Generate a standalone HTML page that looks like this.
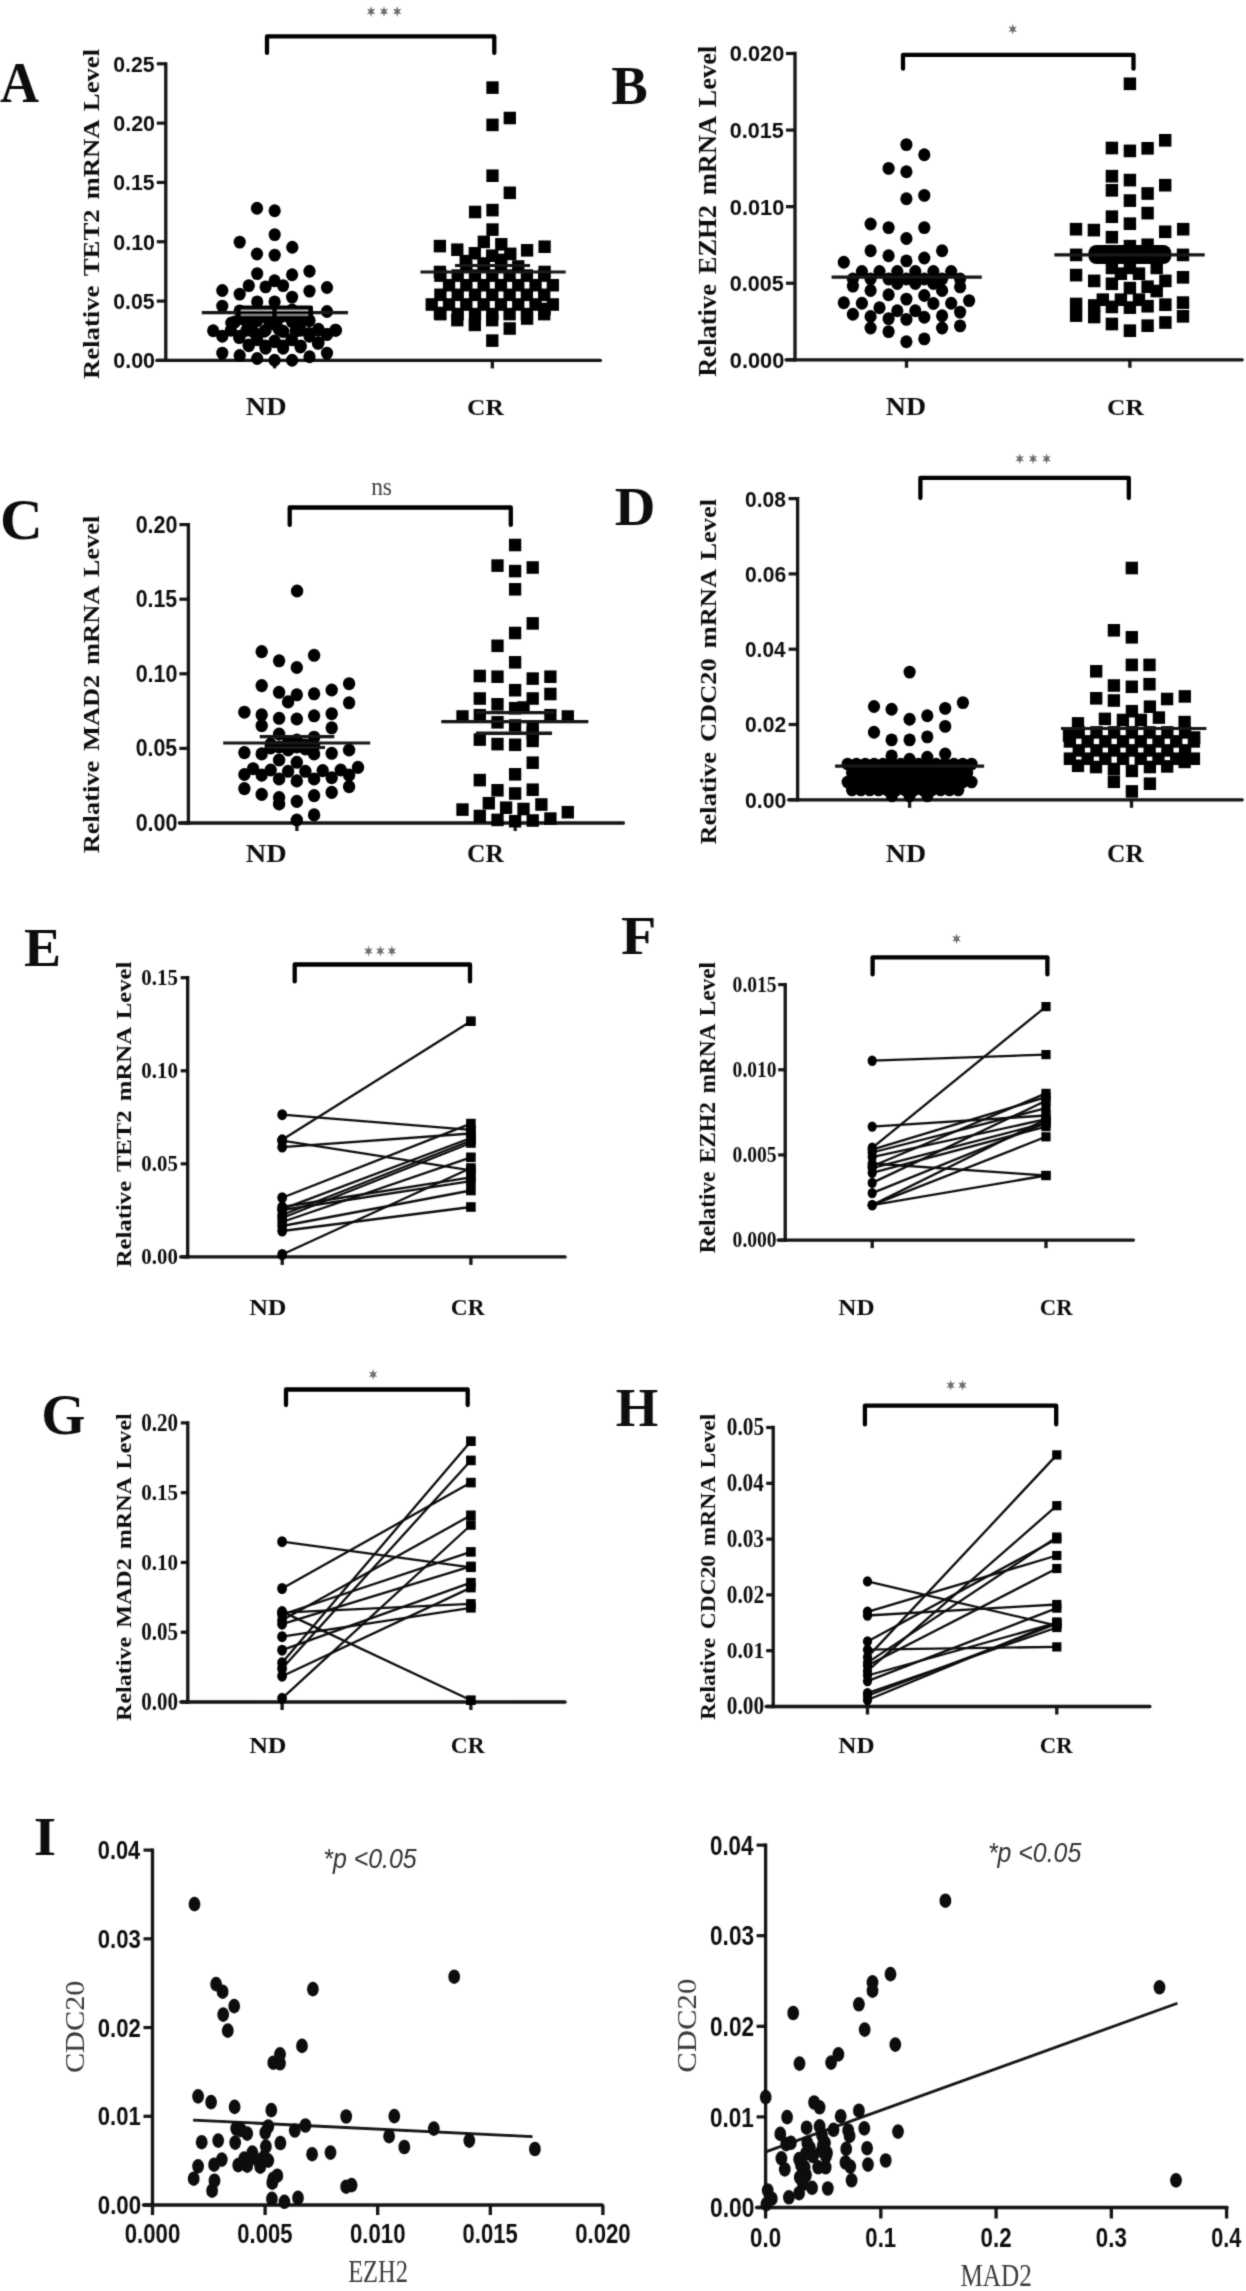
<!DOCTYPE html>
<html><head><meta charset="utf-8"><style>
html,body{margin:0;padding:0;background:#fff;}
body{width:1246px;height:2291px;overflow:hidden;font-family:"Liberation Sans",sans-serif;}
svg{display:block;}
</style></head><body>
<svg width="1246" height="2291" viewBox="0 0 1246 2291">
<defs><filter id="soft" filterUnits="userSpaceOnUse" x="0" y="0" width="1246" height="2291"><feConvolveMatrix order="3" kernelMatrix="0.025 0.1 0.025 0.1 0.5 0.1 0.025 0.1 0.025" edgeMode="duplicate"/></filter></defs>
<rect width="1246" height="2291" fill="#fff"/>
<g filter="url(#soft)">
<line x1="165.8" y1="62.15" x2="165.8" y2="362.05" stroke="#121212" stroke-width="3.3" stroke-linecap="butt"/>
<line x1="156.8" y1="63.8" x2="165.8" y2="63.8" stroke="#121212" stroke-width="3.2" stroke-linecap="butt"/>
<line x1="156.8" y1="123.12" x2="165.8" y2="123.12" stroke="#121212" stroke-width="3.2" stroke-linecap="butt"/>
<line x1="156.8" y1="182.44" x2="165.8" y2="182.44" stroke="#121212" stroke-width="3.2" stroke-linecap="butt"/>
<line x1="156.8" y1="241.76" x2="165.8" y2="241.76" stroke="#121212" stroke-width="3.2" stroke-linecap="butt"/>
<line x1="156.8" y1="301.08" x2="165.8" y2="301.08" stroke="#121212" stroke-width="3.2" stroke-linecap="butt"/>
<line x1="156.8" y1="360.4" x2="165.8" y2="360.4" stroke="#121212" stroke-width="3.2" stroke-linecap="butt"/>
<line x1="156.8" y1="360.4" x2="600.4" y2="360.4" stroke="#121212" stroke-width="3.3" stroke-linecap="round"/>
<line x1="274.6" y1="360.4" x2="274.6" y2="368.4" stroke="#121212" stroke-width="3.3" stroke-linecap="butt"/>
<line x1="492.3" y1="360.4" x2="492.3" y2="368.4" stroke="#121212" stroke-width="3.3" stroke-linecap="butt"/>
<polyline points="267,52.9 267,36.4 494.3,36.4 494.3,52.9" fill="none" stroke="#050505" stroke-width="4.3" stroke-linejoin="round" stroke-linecap="round"/>
<polygon points="371.1,6.1 370.09,9.51 366.98,8.8 369.08,11.5 366.98,14.2 370.09,13.49 371.1,16.9 372.11,13.49 375.22,14.2 373.12,11.5 375.22,8.8 372.11,9.51" fill="#6e6e6e"/>
<polygon points="384,6.1 382.99,9.51 379.88,8.8 381.98,11.5 379.88,14.2 382.99,13.49 384,16.9 385.01,13.49 388.12,14.2 386.02,11.5 388.12,8.8 385.01,9.51" fill="#6e6e6e"/>
<polygon points="397.2,6.1 396.19,9.51 393.08,8.8 395.18,11.5 393.08,14.2 396.19,13.49 397.2,16.9 398.21,13.49 401.32,14.2 399.22,11.5 401.32,8.8 398.21,9.51" fill="#6e6e6e"/>
<ellipse cx="257" cy="208.2" rx="6.1" ry="6.44" fill="#000"/>
<ellipse cx="274.7" cy="210.8" rx="6.1" ry="6.44" fill="#000"/>
<ellipse cx="274.7" cy="234.6" rx="6.1" ry="6.44" fill="#000"/>
<ellipse cx="239.7" cy="242.1" rx="6.1" ry="6.44" fill="#000"/>
<ellipse cx="292.3" cy="247.2" rx="6.1" ry="6.44" fill="#000"/>
<ellipse cx="257" cy="254" rx="6.1" ry="6.44" fill="#000"/>
<ellipse cx="274.7" cy="255.1" rx="6.1" ry="6.44" fill="#000"/>
<ellipse cx="257.2" cy="273.6" rx="6.1" ry="6.44" fill="#000"/>
<ellipse cx="292.1" cy="274.8" rx="6.1" ry="6.44" fill="#000"/>
<ellipse cx="309.5" cy="271.2" rx="6.1" ry="6.44" fill="#000"/>
<ellipse cx="248.8" cy="285.6" rx="6.1" ry="6.44" fill="#000"/>
<ellipse cx="265.6" cy="286.9" rx="6.1" ry="6.44" fill="#000"/>
<ellipse cx="274.6" cy="280.8" rx="6.1" ry="6.44" fill="#000"/>
<ellipse cx="283.1" cy="285.6" rx="6.1" ry="6.44" fill="#000"/>
<ellipse cx="327" cy="287.5" rx="6.1" ry="6.44" fill="#000"/>
<ellipse cx="222.3" cy="290.5" rx="6.1" ry="6.44" fill="#000"/>
<ellipse cx="239.7" cy="294.1" rx="6.1" ry="6.44" fill="#000"/>
<ellipse cx="309.5" cy="291.1" rx="6.1" ry="6.44" fill="#000"/>
<ellipse cx="292.1" cy="297.1" rx="6.1" ry="6.44" fill="#000"/>
<ellipse cx="222.3" cy="306.1" rx="6.1" ry="6.44" fill="#000"/>
<ellipse cx="257.2" cy="301.9" rx="6.1" ry="6.44" fill="#000"/>
<ellipse cx="274.6" cy="301.9" rx="6.1" ry="6.44" fill="#000"/>
<ellipse cx="327" cy="311.5" rx="6.1" ry="6.44" fill="#000"/>
<ellipse cx="239.7" cy="310.9" rx="6.1" ry="6.44" fill="#000"/>
<ellipse cx="309.5" cy="320.6" rx="6.1" ry="6.44" fill="#000"/>
<ellipse cx="231.3" cy="323" rx="6.1" ry="6.44" fill="#000"/>
<ellipse cx="213.2" cy="330.8" rx="6.1" ry="6.44" fill="#000"/>
<ellipse cx="222.3" cy="336.2" rx="6.1" ry="6.44" fill="#000"/>
<ellipse cx="239.7" cy="336.2" rx="6.1" ry="6.44" fill="#000"/>
<ellipse cx="248.8" cy="329" rx="6.1" ry="6.44" fill="#000"/>
<ellipse cx="257.2" cy="320.6" rx="6.1" ry="6.44" fill="#000"/>
<ellipse cx="265.6" cy="330.2" rx="6.1" ry="6.44" fill="#000"/>
<ellipse cx="274.6" cy="324.2" rx="6.1" ry="6.44" fill="#000"/>
<ellipse cx="283.1" cy="331.4" rx="6.1" ry="6.44" fill="#000"/>
<ellipse cx="292.1" cy="321.8" rx="6.1" ry="6.44" fill="#000"/>
<ellipse cx="300.5" cy="330.2" rx="6.1" ry="6.44" fill="#000"/>
<ellipse cx="318" cy="330.2" rx="6.1" ry="6.44" fill="#000"/>
<ellipse cx="327" cy="334.4" rx="6.1" ry="6.44" fill="#000"/>
<ellipse cx="336" cy="330.2" rx="6.1" ry="6.44" fill="#000"/>
<ellipse cx="309.5" cy="336.2" rx="6.1" ry="6.44" fill="#000"/>
<ellipse cx="248.8" cy="345.8" rx="6.1" ry="6.44" fill="#000"/>
<ellipse cx="257.2" cy="339.8" rx="6.1" ry="6.44" fill="#000"/>
<ellipse cx="265.6" cy="348.2" rx="6.1" ry="6.44" fill="#000"/>
<ellipse cx="274.6" cy="341" rx="6.1" ry="6.44" fill="#000"/>
<ellipse cx="283.1" cy="348.2" rx="6.1" ry="6.44" fill="#000"/>
<ellipse cx="292.1" cy="339.8" rx="6.1" ry="6.44" fill="#000"/>
<ellipse cx="300.5" cy="347" rx="6.1" ry="6.44" fill="#000"/>
<ellipse cx="318" cy="343.4" rx="6.1" ry="6.44" fill="#000"/>
<ellipse cx="222.3" cy="353.1" rx="6.1" ry="6.44" fill="#000"/>
<ellipse cx="239.7" cy="355.5" rx="6.1" ry="6.44" fill="#000"/>
<ellipse cx="257.2" cy="358.5" rx="6.1" ry="6.44" fill="#000"/>
<ellipse cx="274.6" cy="360.3" rx="6.1" ry="6.44" fill="#000"/>
<ellipse cx="292.1" cy="360.3" rx="6.1" ry="6.44" fill="#000"/>
<ellipse cx="309.5" cy="356.7" rx="6.1" ry="6.44" fill="#000"/>
<ellipse cx="327" cy="353.1" rx="6.1" ry="6.44" fill="#000"/>
<ellipse cx="248.8" cy="314" rx="6.1" ry="6.44" fill="#000"/>
<ellipse cx="265.6" cy="316" rx="6.1" ry="6.44" fill="#000"/>
<ellipse cx="283.1" cy="316" rx="6.1" ry="6.44" fill="#000"/>
<ellipse cx="300.5" cy="316" rx="6.1" ry="6.44" fill="#000"/>
<ellipse cx="257.2" cy="310" rx="6.1" ry="6.44" fill="#000"/>
<ellipse cx="292.1" cy="310" rx="6.1" ry="6.44" fill="#000"/>
<ellipse cx="235" cy="321.9" rx="6.1" ry="6.44" fill="#000"/>
<ellipse cx="244.4" cy="319.8" rx="6.1" ry="6.44" fill="#000"/>
<ellipse cx="253.8" cy="320.9" rx="6.1" ry="6.44" fill="#000"/>
<ellipse cx="268.4" cy="319.8" rx="6.1" ry="6.44" fill="#000"/>
<ellipse cx="276.8" cy="320.9" rx="6.1" ry="6.44" fill="#000"/>
<ellipse cx="292.4" cy="320.9" rx="6.1" ry="6.44" fill="#000"/>
<ellipse cx="299.7" cy="327.1" rx="6.1" ry="6.44" fill="#000"/>
<ellipse cx="309.1" cy="320.3" rx="6.1" ry="6.44" fill="#000"/>
<ellipse cx="230.9" cy="330.3" rx="6.1" ry="6.44" fill="#000"/>
<ellipse cx="246.5" cy="330.3" rx="6.1" ry="6.44" fill="#000"/>
<ellipse cx="253.8" cy="332.3" rx="6.1" ry="6.44" fill="#000"/>
<ellipse cx="264.3" cy="331.3" rx="6.1" ry="6.44" fill="#000"/>
<ellipse cx="278.9" cy="329.2" rx="6.1" ry="6.44" fill="#000"/>
<ellipse cx="283" cy="331.3" rx="6.1" ry="6.44" fill="#000"/>
<ellipse cx="295.5" cy="331.3" rx="6.1" ry="6.44" fill="#000"/>
<ellipse cx="309.1" cy="333.4" rx="6.1" ry="6.44" fill="#000"/>
<ellipse cx="239.2" cy="337.6" rx="6.1" ry="6.44" fill="#000"/>
<ellipse cx="248.6" cy="344.9" rx="6.1" ry="6.44" fill="#000"/>
<ellipse cx="257" cy="337.6" rx="6.1" ry="6.44" fill="#000"/>
<ellipse cx="265.3" cy="345.9" rx="6.1" ry="6.44" fill="#000"/>
<ellipse cx="274.7" cy="341.7" rx="6.1" ry="6.44" fill="#000"/>
<ellipse cx="283" cy="345.9" rx="6.1" ry="6.44" fill="#000"/>
<ellipse cx="291.4" cy="339.6" rx="6.1" ry="6.44" fill="#000"/>
<ellipse cx="300.8" cy="345.9" rx="6.1" ry="6.44" fill="#000"/>
<ellipse cx="318.5" cy="342.8" rx="6.1" ry="6.44" fill="#000"/>
<ellipse cx="318.5" cy="329.2" rx="6.1" ry="6.44" fill="#000"/>
<ellipse cx="335.2" cy="330.3" rx="6.1" ry="6.44" fill="#000"/>
<ellipse cx="326.8" cy="334.4" rx="6.1" ry="6.44" fill="#000"/>
<line x1="201.8" y1="312.7" x2="348" y2="312.7" stroke="#121212" stroke-width="3.2" stroke-linecap="butt"/>
<rect x="236.5" y="305.5" width="76.5" height="14" rx="2" fill="#000"/>
<line x1="241" y1="310.3" x2="272" y2="310.3" stroke="#ddd" stroke-width="1.1" stroke-linecap="butt"/>
<line x1="277" y1="310.3" x2="308" y2="310.3" stroke="#ddd" stroke-width="1.1" stroke-linecap="butt"/>
<line x1="241" y1="315" x2="272" y2="315" stroke="#ddd" stroke-width="1.1" stroke-linecap="butt"/>
<line x1="277" y1="315" x2="308" y2="315" stroke="#ddd" stroke-width="1.1" stroke-linecap="butt"/>
<rect x="486.35" y="81.33" width="12.3" height="12.55" fill="#000"/>
<rect x="503.65" y="111.73" width="12.3" height="12.55" fill="#000"/>
<rect x="486.35" y="118.63" width="12.3" height="12.55" fill="#000"/>
<rect x="486.35" y="169.43" width="12.3" height="12.55" fill="#000"/>
<rect x="503.65" y="186.53" width="12.3" height="12.55" fill="#000"/>
<rect x="468.95" y="205.73" width="12.3" height="12.55" fill="#000"/>
<rect x="486.35" y="203.83" width="12.3" height="12.55" fill="#000"/>
<rect x="486.35" y="223.33" width="12.3" height="12.55" fill="#000"/>
<rect x="477.65" y="235.63" width="12.3" height="12.55" fill="#000"/>
<rect x="495.15" y="238.03" width="12.3" height="12.55" fill="#000"/>
<rect x="433.75" y="239.83" width="12.3" height="12.55" fill="#000"/>
<rect x="451.15" y="243.43" width="12.3" height="12.55" fill="#000"/>
<rect x="468.65" y="247.03" width="12.3" height="12.55" fill="#000"/>
<rect x="486.05" y="249.43" width="12.3" height="12.55" fill="#000"/>
<rect x="504.15" y="247.63" width="12.3" height="12.55" fill="#000"/>
<rect x="520.95" y="244.03" width="12.3" height="12.55" fill="#000"/>
<rect x="538.45" y="240.43" width="12.3" height="12.55" fill="#000"/>
<rect x="459.55" y="254.83" width="12.3" height="12.55" fill="#000"/>
<rect x="477.65" y="257.23" width="12.3" height="12.55" fill="#000"/>
<rect x="495.15" y="253.63" width="12.3" height="12.55" fill="#000"/>
<rect x="433.75" y="265.73" width="12.3" height="12.55" fill="#000"/>
<rect x="538.45" y="265.73" width="12.3" height="12.55" fill="#000"/>
<rect x="434.25" y="269.33" width="12.3" height="12.55" fill="#000"/>
<rect x="451.55" y="269.33" width="12.3" height="12.55" fill="#000"/>
<rect x="468.85" y="269.33" width="12.3" height="12.55" fill="#000"/>
<rect x="486.15" y="269.33" width="12.3" height="12.55" fill="#000"/>
<rect x="503.45" y="269.33" width="12.3" height="12.55" fill="#000"/>
<rect x="520.75" y="269.33" width="12.3" height="12.55" fill="#000"/>
<rect x="538.05" y="269.33" width="12.3" height="12.55" fill="#000"/>
<rect x="434.25" y="288.53" width="12.3" height="12.55" fill="#000"/>
<rect x="451.55" y="288.53" width="12.3" height="12.55" fill="#000"/>
<rect x="468.85" y="288.53" width="12.3" height="12.55" fill="#000"/>
<rect x="486.15" y="288.53" width="12.3" height="12.55" fill="#000"/>
<rect x="503.45" y="288.53" width="12.3" height="12.55" fill="#000"/>
<rect x="520.75" y="288.53" width="12.3" height="12.55" fill="#000"/>
<rect x="538.05" y="288.53" width="12.3" height="12.55" fill="#000"/>
<rect x="434.25" y="307.83" width="12.3" height="12.55" fill="#000"/>
<rect x="451.55" y="307.83" width="12.3" height="12.55" fill="#000"/>
<rect x="468.85" y="307.83" width="12.3" height="12.55" fill="#000"/>
<rect x="486.15" y="307.83" width="12.3" height="12.55" fill="#000"/>
<rect x="503.45" y="307.83" width="12.3" height="12.55" fill="#000"/>
<rect x="520.75" y="307.83" width="12.3" height="12.55" fill="#000"/>
<rect x="538.05" y="307.83" width="12.3" height="12.55" fill="#000"/>
<rect x="460.2" y="260.23" width="12.3" height="12.55" fill="#000"/>
<rect x="477.5" y="260.23" width="12.3" height="12.55" fill="#000"/>
<rect x="494.8" y="260.23" width="12.3" height="12.55" fill="#000"/>
<rect x="512.1" y="260.23" width="12.3" height="12.55" fill="#000"/>
<rect x="442.9" y="278.93" width="12.3" height="12.55" fill="#000"/>
<rect x="460.2" y="278.93" width="12.3" height="12.55" fill="#000"/>
<rect x="477.5" y="278.93" width="12.3" height="12.55" fill="#000"/>
<rect x="494.8" y="278.93" width="12.3" height="12.55" fill="#000"/>
<rect x="512.1" y="278.93" width="12.3" height="12.55" fill="#000"/>
<rect x="529.4" y="278.93" width="12.3" height="12.55" fill="#000"/>
<rect x="546.7" y="278.93" width="12.3" height="12.55" fill="#000"/>
<rect x="425.6" y="298.23" width="12.3" height="12.55" fill="#000"/>
<rect x="442.9" y="298.23" width="12.3" height="12.55" fill="#000"/>
<rect x="460.2" y="298.23" width="12.3" height="12.55" fill="#000"/>
<rect x="477.5" y="298.23" width="12.3" height="12.55" fill="#000"/>
<rect x="494.8" y="298.23" width="12.3" height="12.55" fill="#000"/>
<rect x="512.1" y="298.23" width="12.3" height="12.55" fill="#000"/>
<rect x="529.4" y="298.23" width="12.3" height="12.55" fill="#000"/>
<rect x="546.7" y="298.23" width="12.3" height="12.55" fill="#000"/>
<rect x="451.15" y="313.83" width="12.3" height="12.55" fill="#000"/>
<rect x="468.65" y="318.63" width="12.3" height="12.55" fill="#000"/>
<rect x="486.05" y="313.83" width="12.3" height="12.55" fill="#000"/>
<rect x="503.55" y="322.23" width="12.3" height="12.55" fill="#000"/>
<rect x="520.95" y="312.23" width="12.3" height="12.55" fill="#000"/>
<rect x="538.45" y="302.73" width="12.3" height="12.55" fill="#000"/>
<rect x="433.75" y="306.73" width="12.3" height="12.55" fill="#000"/>
<rect x="486.15" y="334.33" width="12.3" height="12.55" fill="#000"/>
<line x1="420.5" y1="272" x2="565.7" y2="272" stroke="#121212" stroke-width="3.2" stroke-linecap="butt"/>
<line x1="455" y1="265.5" x2="530" y2="265.5" stroke="#121212" stroke-width="3" stroke-linecap="butt"/>
<line x1="795" y1="51.85" x2="795" y2="361.45" stroke="#121212" stroke-width="3.3" stroke-linecap="butt"/>
<line x1="786" y1="53.5" x2="795" y2="53.5" stroke="#121212" stroke-width="3.2" stroke-linecap="butt"/>
<line x1="786" y1="130.07" x2="795" y2="130.07" stroke="#121212" stroke-width="3.2" stroke-linecap="butt"/>
<line x1="786" y1="206.65" x2="795" y2="206.65" stroke="#121212" stroke-width="3.2" stroke-linecap="butt"/>
<line x1="786" y1="283.23" x2="795" y2="283.23" stroke="#121212" stroke-width="3.2" stroke-linecap="butt"/>
<line x1="786" y1="359.8" x2="795" y2="359.8" stroke="#121212" stroke-width="3.2" stroke-linecap="butt"/>
<line x1="786" y1="359.8" x2="1242.2" y2="359.8" stroke="#121212" stroke-width="3.3" stroke-linecap="round"/>
<line x1="906.5" y1="359.8" x2="906.5" y2="367.8" stroke="#121212" stroke-width="3.3" stroke-linecap="butt"/>
<line x1="1129.9" y1="359.8" x2="1129.9" y2="367.8" stroke="#121212" stroke-width="3.3" stroke-linecap="butt"/>
<polyline points="903,68.7 903,54.8 1133.5,54.8 1133.5,68.7" fill="none" stroke="#050505" stroke-width="4.3" stroke-linejoin="round" stroke-linecap="round"/>
<polygon points="1012.7,23.8 1011.69,27.21 1008.58,26.5 1010.68,29.2 1008.58,31.9 1011.69,31.19 1012.7,34.6 1013.71,31.19 1016.82,31.9 1014.72,29.2 1016.82,26.5 1013.71,27.21" fill="#6e6e6e"/>
<ellipse cx="906.4" cy="144.6" rx="6.1" ry="6.44" fill="#000"/>
<ellipse cx="924.3" cy="154.7" rx="6.1" ry="6.44" fill="#000"/>
<ellipse cx="888.6" cy="168.4" rx="6.1" ry="6.44" fill="#000"/>
<ellipse cx="906.4" cy="171.7" rx="6.1" ry="6.44" fill="#000"/>
<ellipse cx="906.4" cy="198.7" rx="6.1" ry="6.44" fill="#000"/>
<ellipse cx="924.3" cy="195.4" rx="6.1" ry="6.44" fill="#000"/>
<ellipse cx="870.6" cy="224" rx="6.1" ry="6.44" fill="#000"/>
<ellipse cx="888.6" cy="227.6" rx="6.1" ry="6.44" fill="#000"/>
<ellipse cx="924.3" cy="227.6" rx="6.1" ry="6.44" fill="#000"/>
<ellipse cx="906.4" cy="238.5" rx="6.1" ry="6.44" fill="#000"/>
<ellipse cx="870.6" cy="250.7" rx="6.1" ry="6.44" fill="#000"/>
<ellipse cx="888.6" cy="255.8" rx="6.1" ry="6.44" fill="#000"/>
<ellipse cx="906.4" cy="260.9" rx="6.1" ry="6.44" fill="#000"/>
<ellipse cx="924.3" cy="258" rx="6.1" ry="6.44" fill="#000"/>
<ellipse cx="942.1" cy="250.7" rx="6.1" ry="6.44" fill="#000"/>
<ellipse cx="843.8" cy="262.3" rx="6.1" ry="6.44" fill="#000"/>
<ellipse cx="852.9" cy="286.1" rx="6.1" ry="6.44" fill="#000"/>
<ellipse cx="870.6" cy="290.5" rx="6.1" ry="6.44" fill="#000"/>
<ellipse cx="888.6" cy="294.8" rx="6.1" ry="6.44" fill="#000"/>
<ellipse cx="906.4" cy="299.1" rx="6.1" ry="6.44" fill="#000"/>
<ellipse cx="924.3" cy="295.5" rx="6.1" ry="6.44" fill="#000"/>
<ellipse cx="942.1" cy="290.5" rx="6.1" ry="6.44" fill="#000"/>
<ellipse cx="960.1" cy="286.9" rx="6.1" ry="6.44" fill="#000"/>
<ellipse cx="843.8" cy="302.7" rx="6.1" ry="6.44" fill="#000"/>
<ellipse cx="861.9" cy="303.2" rx="6.1" ry="6.44" fill="#000"/>
<ellipse cx="879.5" cy="307.8" rx="6.1" ry="6.44" fill="#000"/>
<ellipse cx="897.3" cy="310.7" rx="6.1" ry="6.44" fill="#000"/>
<ellipse cx="915.3" cy="310.7" rx="6.1" ry="6.44" fill="#000"/>
<ellipse cx="933.4" cy="303.5" rx="6.1" ry="6.44" fill="#000"/>
<ellipse cx="951.2" cy="303.2" rx="6.1" ry="6.44" fill="#000"/>
<ellipse cx="969.1" cy="300.6" rx="6.1" ry="6.44" fill="#000"/>
<ellipse cx="852.9" cy="314.3" rx="6.1" ry="6.44" fill="#000"/>
<ellipse cx="870.6" cy="316.5" rx="6.1" ry="6.44" fill="#000"/>
<ellipse cx="888.6" cy="318.6" rx="6.1" ry="6.44" fill="#000"/>
<ellipse cx="906.4" cy="319.4" rx="6.1" ry="6.44" fill="#000"/>
<ellipse cx="924.3" cy="317.2" rx="6.1" ry="6.44" fill="#000"/>
<ellipse cx="942.1" cy="315.8" rx="6.1" ry="6.44" fill="#000"/>
<ellipse cx="960.1" cy="312.1" rx="6.1" ry="6.44" fill="#000"/>
<ellipse cx="870.6" cy="328" rx="6.1" ry="6.44" fill="#000"/>
<ellipse cx="888.6" cy="331.6" rx="6.1" ry="6.44" fill="#000"/>
<ellipse cx="942.1" cy="328" rx="6.1" ry="6.44" fill="#000"/>
<ellipse cx="960.1" cy="325.9" rx="6.1" ry="6.44" fill="#000"/>
<ellipse cx="906.4" cy="341.8" rx="6.1" ry="6.44" fill="#000"/>
<ellipse cx="924.3" cy="338.9" rx="6.1" ry="6.44" fill="#000"/>
<ellipse cx="861.9" cy="271.5" rx="6.1" ry="6.44" fill="#000"/>
<ellipse cx="879.5" cy="271.5" rx="6.1" ry="6.44" fill="#000"/>
<ellipse cx="897.3" cy="271.5" rx="6.1" ry="6.44" fill="#000"/>
<ellipse cx="915.3" cy="271.5" rx="6.1" ry="6.44" fill="#000"/>
<ellipse cx="933.4" cy="271.5" rx="6.1" ry="6.44" fill="#000"/>
<ellipse cx="951.2" cy="271.5" rx="6.1" ry="6.44" fill="#000"/>
<ellipse cx="852.9" cy="279" rx="6.1" ry="6.44" fill="#000"/>
<ellipse cx="870.6" cy="279" rx="6.1" ry="6.44" fill="#000"/>
<ellipse cx="888.6" cy="279" rx="6.1" ry="6.44" fill="#000"/>
<ellipse cx="906.4" cy="279" rx="6.1" ry="6.44" fill="#000"/>
<ellipse cx="924.3" cy="279" rx="6.1" ry="6.44" fill="#000"/>
<ellipse cx="942.1" cy="279" rx="6.1" ry="6.44" fill="#000"/>
<ellipse cx="960.1" cy="279" rx="6.1" ry="6.44" fill="#000"/>
<ellipse cx="897.3" cy="283.5" rx="6.1" ry="6.44" fill="#000"/>
<ellipse cx="915.3" cy="283.5" rx="6.1" ry="6.44" fill="#000"/>
<ellipse cx="933.4" cy="283.5" rx="6.1" ry="6.44" fill="#000"/>
<line x1="831.6" y1="277.2" x2="981.8" y2="277.2" stroke="#121212" stroke-width="3.2" stroke-linecap="butt"/>
<rect x="1123.7" y="77.48" width="12.4" height="12.65" fill="#000"/>
<rect x="1105.7" y="141.68" width="12.4" height="12.65" fill="#000"/>
<rect x="1123.7" y="144.58" width="12.4" height="12.65" fill="#000"/>
<rect x="1141.4" y="141.98" width="12.4" height="12.65" fill="#000"/>
<rect x="1159" y="133.98" width="12.4" height="12.65" fill="#000"/>
<rect x="1105.7" y="169.88" width="12.4" height="12.65" fill="#000"/>
<rect x="1105.7" y="183.98" width="12.4" height="12.65" fill="#000"/>
<rect x="1123.7" y="173.78" width="12.4" height="12.65" fill="#000"/>
<rect x="1141.4" y="187.18" width="12.4" height="12.65" fill="#000"/>
<rect x="1159" y="178.88" width="12.4" height="12.65" fill="#000"/>
<rect x="1123.7" y="194.28" width="12.4" height="12.65" fill="#000"/>
<rect x="1105.7" y="210.38" width="12.4" height="12.65" fill="#000"/>
<rect x="1123.7" y="217.38" width="12.4" height="12.65" fill="#000"/>
<rect x="1141.4" y="206.78" width="12.4" height="12.65" fill="#000"/>
<rect x="1069.8" y="222.88" width="12.4" height="12.65" fill="#000"/>
<rect x="1087.7" y="223.78" width="12.4" height="12.65" fill="#000"/>
<rect x="1159" y="225.48" width="12.4" height="12.65" fill="#000"/>
<rect x="1177" y="222.88" width="12.4" height="12.65" fill="#000"/>
<rect x="1105.7" y="230.88" width="12.4" height="12.65" fill="#000"/>
<rect x="1123.7" y="239.88" width="12.4" height="12.65" fill="#000"/>
<rect x="1141.4" y="238.48" width="12.4" height="12.65" fill="#000"/>
<rect x="1069.9" y="248.58" width="12.4" height="12.65" fill="#000"/>
<rect x="1176.8" y="248.58" width="12.4" height="12.65" fill="#000"/>
<rect x="1105.7" y="261.58" width="12.4" height="12.65" fill="#000"/>
<rect x="1123.7" y="261.58" width="12.4" height="12.65" fill="#000"/>
<rect x="1132.8" y="267.38" width="12.4" height="12.65" fill="#000"/>
<rect x="1150.5" y="261.58" width="12.4" height="12.65" fill="#000"/>
<rect x="1069.9" y="268.78" width="12.4" height="12.65" fill="#000"/>
<rect x="1088" y="274.58" width="12.4" height="12.65" fill="#000"/>
<rect x="1105.7" y="277.48" width="12.4" height="12.65" fill="#000"/>
<rect x="1123.7" y="281.78" width="12.4" height="12.65" fill="#000"/>
<rect x="1141.4" y="280.38" width="12.4" height="12.65" fill="#000"/>
<rect x="1150.5" y="284.68" width="12.4" height="12.65" fill="#000"/>
<rect x="1159.2" y="274.58" width="12.4" height="12.65" fill="#000"/>
<rect x="1176.8" y="270.98" width="12.4" height="12.65" fill="#000"/>
<rect x="1069.9" y="297.68" width="12.4" height="12.65" fill="#000"/>
<rect x="1069.9" y="309.28" width="12.4" height="12.65" fill="#000"/>
<rect x="1088" y="299.18" width="12.4" height="12.65" fill="#000"/>
<rect x="1088" y="310.68" width="12.4" height="12.65" fill="#000"/>
<rect x="1096.6" y="293.38" width="12.4" height="12.65" fill="#000"/>
<rect x="1105.7" y="300.58" width="12.4" height="12.65" fill="#000"/>
<rect x="1114.7" y="293.38" width="12.4" height="12.65" fill="#000"/>
<rect x="1123.7" y="301.28" width="12.4" height="12.65" fill="#000"/>
<rect x="1132.8" y="293.38" width="12.4" height="12.65" fill="#000"/>
<rect x="1141.4" y="299.88" width="12.4" height="12.65" fill="#000"/>
<rect x="1159.2" y="298.38" width="12.4" height="12.65" fill="#000"/>
<rect x="1176.8" y="296.28" width="12.4" height="12.65" fill="#000"/>
<rect x="1176.8" y="309.98" width="12.4" height="12.65" fill="#000"/>
<rect x="1105.7" y="317.68" width="12.4" height="12.65" fill="#000"/>
<rect x="1123.7" y="324.38" width="12.4" height="12.65" fill="#000"/>
<rect x="1141.4" y="319.38" width="12.4" height="12.65" fill="#000"/>
<rect x="1159.2" y="316.18" width="12.4" height="12.65" fill="#000"/>
<rect x="1114.7" y="267.38" width="12.4" height="12.65" fill="#000"/>
<rect x="1088.4" y="245" width="83" height="19" rx="8" fill="#000"/>
<line x1="1054.4" y1="254.9" x2="1204.7" y2="254.9" stroke="#121212" stroke-width="3.2" stroke-linecap="butt"/>
<line x1="188.4" y1="522.95" x2="188.4" y2="824.65" stroke="#121212" stroke-width="3.3" stroke-linecap="butt"/>
<line x1="179.4" y1="524.6" x2="188.4" y2="524.6" stroke="#121212" stroke-width="3.2" stroke-linecap="butt"/>
<line x1="179.4" y1="599.2" x2="188.4" y2="599.2" stroke="#121212" stroke-width="3.2" stroke-linecap="butt"/>
<line x1="179.4" y1="673.8" x2="188.4" y2="673.8" stroke="#121212" stroke-width="3.2" stroke-linecap="butt"/>
<line x1="179.4" y1="748.4" x2="188.4" y2="748.4" stroke="#121212" stroke-width="3.2" stroke-linecap="butt"/>
<line x1="179.4" y1="823" x2="188.4" y2="823" stroke="#121212" stroke-width="3.2" stroke-linecap="butt"/>
<line x1="179.4" y1="823" x2="623.4" y2="823" stroke="#121212" stroke-width="3.3" stroke-linecap="round"/>
<line x1="296.9" y1="823" x2="296.9" y2="831" stroke="#121212" stroke-width="3.3" stroke-linecap="butt"/>
<line x1="515.2" y1="823" x2="515.2" y2="831" stroke="#121212" stroke-width="3.3" stroke-linecap="butt"/>
<polyline points="289.7,524.9 289.7,507.5 510.8,507.5 510.8,524.9" fill="none" stroke="#050505" stroke-width="4.3" stroke-linejoin="round" stroke-linecap="round"/>
<ellipse cx="297.1" cy="591" rx="6.2" ry="6.54" fill="#000"/>
<ellipse cx="261.7" cy="651.6" rx="6.2" ry="6.54" fill="#000"/>
<ellipse cx="279.1" cy="660.8" rx="6.2" ry="6.54" fill="#000"/>
<ellipse cx="296.8" cy="667.5" rx="6.2" ry="6.54" fill="#000"/>
<ellipse cx="314.1" cy="655.3" rx="6.2" ry="6.54" fill="#000"/>
<ellipse cx="261.7" cy="685.6" rx="6.2" ry="6.54" fill="#000"/>
<ellipse cx="279.1" cy="692.3" rx="6.2" ry="6.54" fill="#000"/>
<ellipse cx="288.1" cy="701.9" rx="6.2" ry="6.54" fill="#000"/>
<ellipse cx="296.8" cy="694.8" rx="6.2" ry="6.54" fill="#000"/>
<ellipse cx="314.1" cy="693.8" rx="6.2" ry="6.54" fill="#000"/>
<ellipse cx="331.7" cy="690" rx="6.2" ry="6.54" fill="#000"/>
<ellipse cx="349.1" cy="683.7" rx="6.2" ry="6.54" fill="#000"/>
<ellipse cx="349.1" cy="702.8" rx="6.2" ry="6.54" fill="#000"/>
<ellipse cx="244.4" cy="712.2" rx="6.2" ry="6.54" fill="#000"/>
<ellipse cx="261.7" cy="714.8" rx="6.2" ry="6.54" fill="#000"/>
<ellipse cx="261.7" cy="725.7" rx="6.2" ry="6.54" fill="#000"/>
<ellipse cx="279.1" cy="718.3" rx="6.2" ry="6.54" fill="#000"/>
<ellipse cx="296.8" cy="719" rx="6.2" ry="6.54" fill="#000"/>
<ellipse cx="314.1" cy="715.8" rx="6.2" ry="6.54" fill="#000"/>
<ellipse cx="331.7" cy="713.7" rx="6.2" ry="6.54" fill="#000"/>
<ellipse cx="331.7" cy="727.8" rx="6.2" ry="6.54" fill="#000"/>
<ellipse cx="279.1" cy="734" rx="6.2" ry="6.54" fill="#000"/>
<ellipse cx="314.1" cy="737.2" rx="6.2" ry="6.54" fill="#000"/>
<ellipse cx="244.4" cy="752.6" rx="6.2" ry="6.54" fill="#000"/>
<ellipse cx="261.7" cy="753.9" rx="6.2" ry="6.54" fill="#000"/>
<ellipse cx="288.1" cy="750" rx="6.2" ry="6.54" fill="#000"/>
<ellipse cx="314.1" cy="753.9" rx="6.2" ry="6.54" fill="#000"/>
<ellipse cx="331.7" cy="753.3" rx="6.2" ry="6.54" fill="#000"/>
<ellipse cx="349.1" cy="750" rx="6.2" ry="6.54" fill="#000"/>
<ellipse cx="279.1" cy="760" rx="6.2" ry="6.54" fill="#000"/>
<ellipse cx="296.8" cy="762.3" rx="6.2" ry="6.54" fill="#000"/>
<ellipse cx="244.4" cy="774.5" rx="6.2" ry="6.54" fill="#000"/>
<ellipse cx="253.1" cy="768.7" rx="6.2" ry="6.54" fill="#000"/>
<ellipse cx="261.7" cy="775.1" rx="6.2" ry="6.54" fill="#000"/>
<ellipse cx="270.7" cy="770" rx="6.2" ry="6.54" fill="#000"/>
<ellipse cx="279.1" cy="779" rx="6.2" ry="6.54" fill="#000"/>
<ellipse cx="288.1" cy="771.3" rx="6.2" ry="6.54" fill="#000"/>
<ellipse cx="296.8" cy="780.9" rx="6.2" ry="6.54" fill="#000"/>
<ellipse cx="305.4" cy="771.3" rx="6.2" ry="6.54" fill="#000"/>
<ellipse cx="314.1" cy="779" rx="6.2" ry="6.54" fill="#000"/>
<ellipse cx="322.7" cy="770.6" rx="6.2" ry="6.54" fill="#000"/>
<ellipse cx="331.7" cy="777.7" rx="6.2" ry="6.54" fill="#000"/>
<ellipse cx="340.7" cy="770" rx="6.2" ry="6.54" fill="#000"/>
<ellipse cx="349.1" cy="775.1" rx="6.2" ry="6.54" fill="#000"/>
<ellipse cx="358" cy="767.4" rx="6.2" ry="6.54" fill="#000"/>
<ellipse cx="244.4" cy="788.6" rx="6.2" ry="6.54" fill="#000"/>
<ellipse cx="261.7" cy="794.4" rx="6.2" ry="6.54" fill="#000"/>
<ellipse cx="279.1" cy="797.6" rx="6.2" ry="6.54" fill="#000"/>
<ellipse cx="279.1" cy="804" rx="6.2" ry="6.54" fill="#000"/>
<ellipse cx="296.8" cy="801.4" rx="6.2" ry="6.54" fill="#000"/>
<ellipse cx="314.1" cy="795.6" rx="6.2" ry="6.54" fill="#000"/>
<ellipse cx="331.7" cy="792.4" rx="6.2" ry="6.54" fill="#000"/>
<ellipse cx="349.1" cy="786.7" rx="6.2" ry="6.54" fill="#000"/>
<ellipse cx="314.1" cy="814.9" rx="6.2" ry="6.54" fill="#000"/>
<ellipse cx="296.8" cy="820" rx="6.2" ry="6.54" fill="#000"/>
<ellipse cx="270.7" cy="744" rx="6.2" ry="6.54" fill="#000"/>
<ellipse cx="288.1" cy="742" rx="6.2" ry="6.54" fill="#000"/>
<ellipse cx="305.4" cy="745" rx="6.2" ry="6.54" fill="#000"/>
<ellipse cx="296.8" cy="740" rx="6.2" ry="6.54" fill="#000"/>
<ellipse cx="270.7" cy="748" rx="6.2" ry="6.54" fill="#000"/>
<ellipse cx="279.1" cy="747" rx="6.2" ry="6.54" fill="#000"/>
<ellipse cx="288.1" cy="749" rx="6.2" ry="6.54" fill="#000"/>
<ellipse cx="296.8" cy="747" rx="6.2" ry="6.54" fill="#000"/>
<ellipse cx="305.4" cy="749" rx="6.2" ry="6.54" fill="#000"/>
<ellipse cx="314.1" cy="746" rx="6.2" ry="6.54" fill="#000"/>
<line x1="223.2" y1="743" x2="370.2" y2="743" stroke="#121212" stroke-width="3.2" stroke-linecap="butt"/>
<line x1="259.8" y1="736.6" x2="334.3" y2="736.6" stroke="#121212" stroke-width="3.2" stroke-linecap="butt"/>
<line x1="266" y1="747.5" x2="325" y2="747.5" stroke="#121212" stroke-width="3.2" stroke-linecap="butt"/>
<rect x="508.95" y="538.73" width="12.3" height="12.55" fill="#000"/>
<rect x="491.35" y="559.33" width="12.3" height="12.55" fill="#000"/>
<rect x="508.95" y="564.83" width="12.3" height="12.55" fill="#000"/>
<rect x="526.55" y="561.23" width="12.3" height="12.55" fill="#000"/>
<rect x="508.95" y="583.03" width="12.3" height="12.55" fill="#000"/>
<rect x="526.55" y="617.13" width="12.3" height="12.55" fill="#000"/>
<rect x="508.95" y="626.73" width="12.3" height="12.55" fill="#000"/>
<rect x="491.35" y="639.53" width="12.3" height="12.55" fill="#000"/>
<rect x="508.95" y="656.03" width="12.3" height="12.55" fill="#000"/>
<rect x="473.65" y="669.73" width="12.3" height="12.55" fill="#000"/>
<rect x="491.35" y="670.43" width="12.3" height="12.55" fill="#000"/>
<rect x="526.55" y="672.33" width="12.3" height="12.55" fill="#000"/>
<rect x="544.25" y="670.43" width="12.3" height="12.55" fill="#000"/>
<rect x="508.95" y="683.93" width="12.3" height="12.55" fill="#000"/>
<rect x="473.65" y="692.23" width="12.3" height="12.55" fill="#000"/>
<rect x="526.55" y="692.23" width="12.3" height="12.55" fill="#000"/>
<rect x="544.25" y="687.73" width="12.3" height="12.55" fill="#000"/>
<rect x="491.35" y="698.03" width="12.3" height="12.55" fill="#000"/>
<rect x="508.95" y="701.93" width="12.3" height="12.55" fill="#000"/>
<rect x="517.35" y="701.23" width="12.3" height="12.55" fill="#000"/>
<rect x="456.35" y="710.23" width="12.3" height="12.55" fill="#000"/>
<rect x="473.65" y="708.93" width="12.3" height="12.55" fill="#000"/>
<rect x="544.25" y="708.93" width="12.3" height="12.55" fill="#000"/>
<rect x="561.65" y="710.23" width="12.3" height="12.55" fill="#000"/>
<rect x="491.35" y="716.03" width="12.3" height="12.55" fill="#000"/>
<rect x="508.95" y="719.23" width="12.3" height="12.55" fill="#000"/>
<rect x="526.55" y="720.53" width="12.3" height="12.55" fill="#000"/>
<rect x="473.65" y="733.33" width="12.3" height="12.55" fill="#000"/>
<rect x="491.35" y="737.83" width="12.3" height="12.55" fill="#000"/>
<rect x="508.95" y="738.53" width="12.3" height="12.55" fill="#000"/>
<rect x="526.55" y="734.63" width="12.3" height="12.55" fill="#000"/>
<rect x="526.55" y="726.73" width="12.3" height="12.55" fill="#000"/>
<rect x="526.55" y="756.43" width="12.3" height="12.55" fill="#000"/>
<rect x="508.95" y="768.03" width="12.3" height="12.55" fill="#000"/>
<rect x="473.65" y="773.83" width="12.3" height="12.55" fill="#000"/>
<rect x="491.35" y="784.03" width="12.3" height="12.55" fill="#000"/>
<rect x="508.95" y="787.23" width="12.3" height="12.55" fill="#000"/>
<rect x="526.55" y="783.43" width="12.3" height="12.55" fill="#000"/>
<rect x="482.65" y="796.93" width="12.3" height="12.55" fill="#000"/>
<rect x="456.35" y="803.33" width="12.3" height="12.55" fill="#000"/>
<rect x="499.95" y="801.43" width="12.3" height="12.55" fill="#000"/>
<rect x="517.35" y="802.73" width="12.3" height="12.55" fill="#000"/>
<rect x="535.25" y="798.23" width="12.3" height="12.55" fill="#000"/>
<rect x="561.65" y="805.93" width="12.3" height="12.55" fill="#000"/>
<rect x="473.65" y="809.73" width="12.3" height="12.55" fill="#000"/>
<rect x="491.35" y="813.63" width="12.3" height="12.55" fill="#000"/>
<rect x="508.95" y="814.93" width="12.3" height="12.55" fill="#000"/>
<rect x="526.55" y="814.23" width="12.3" height="12.55" fill="#000"/>
<rect x="544.25" y="812.33" width="12.3" height="12.55" fill="#000"/>
<line x1="441.3" y1="721.6" x2="588.3" y2="721.6" stroke="#121212" stroke-width="3.2" stroke-linecap="butt"/>
<line x1="476" y1="712.6" x2="554" y2="712.6" stroke="#121212" stroke-width="3.4" stroke-linecap="butt"/>
<line x1="476" y1="733.2" x2="552" y2="733.2" stroke="#121212" stroke-width="3.4" stroke-linecap="butt"/>
<line x1="797.6" y1="496.95" x2="797.6" y2="801.45" stroke="#121212" stroke-width="3.3" stroke-linecap="butt"/>
<line x1="788.6" y1="498.6" x2="797.6" y2="498.6" stroke="#121212" stroke-width="3.2" stroke-linecap="butt"/>
<line x1="788.6" y1="573.9" x2="797.6" y2="573.9" stroke="#121212" stroke-width="3.2" stroke-linecap="butt"/>
<line x1="788.6" y1="649.2" x2="797.6" y2="649.2" stroke="#121212" stroke-width="3.2" stroke-linecap="butt"/>
<line x1="788.6" y1="724.5" x2="797.6" y2="724.5" stroke="#121212" stroke-width="3.2" stroke-linecap="butt"/>
<line x1="788.6" y1="799.8" x2="797.6" y2="799.8" stroke="#121212" stroke-width="3.2" stroke-linecap="butt"/>
<line x1="788.6" y1="799.8" x2="1242.2" y2="799.8" stroke="#121212" stroke-width="3.3" stroke-linecap="round"/>
<line x1="909.6" y1="799.8" x2="909.6" y2="807.8" stroke="#121212" stroke-width="3.3" stroke-linecap="butt"/>
<line x1="1131.5" y1="799.8" x2="1131.5" y2="807.8" stroke="#121212" stroke-width="3.3" stroke-linecap="butt"/>
<polyline points="920.4,498 920.4,477.8 1128.8,477.8 1128.8,498" fill="none" stroke="#050505" stroke-width="4.3" stroke-linejoin="round" stroke-linecap="round"/>
<polygon points="1019.7,453.4 1018.69,456.81 1015.58,456.1 1017.68,458.8 1015.58,461.5 1018.69,460.79 1019.7,464.2 1020.71,460.79 1023.82,461.5 1021.72,458.8 1023.82,456.1 1020.71,456.81" fill="#6e6e6e"/>
<polygon points="1033.1,453.4 1032.09,456.81 1028.98,456.1 1031.08,458.8 1028.98,461.5 1032.09,460.79 1033.1,464.2 1034.11,460.79 1037.22,461.5 1035.12,458.8 1037.22,456.1 1034.11,456.81" fill="#6e6e6e"/>
<polygon points="1046.6,453.4 1045.59,456.81 1042.48,456.1 1044.58,458.8 1042.48,461.5 1045.59,460.79 1046.6,464.2 1047.61,460.79 1050.72,461.5 1048.62,458.8 1050.72,456.1 1047.61,456.81" fill="#6e6e6e"/>
<ellipse cx="909.6" cy="672.1" rx="6.1" ry="6.44" fill="#000"/>
<ellipse cx="874" cy="706.5" rx="6.1" ry="6.44" fill="#000"/>
<ellipse cx="891.6" cy="709.3" rx="6.1" ry="6.44" fill="#000"/>
<ellipse cx="909.6" cy="719.3" rx="6.1" ry="6.44" fill="#000"/>
<ellipse cx="927.3" cy="715.7" rx="6.1" ry="6.44" fill="#000"/>
<ellipse cx="945.2" cy="708.4" rx="6.1" ry="6.44" fill="#000"/>
<ellipse cx="962.9" cy="702.6" rx="6.1" ry="6.44" fill="#000"/>
<ellipse cx="874" cy="732.2" rx="6.1" ry="6.44" fill="#000"/>
<ellipse cx="891.6" cy="739.9" rx="6.1" ry="6.44" fill="#000"/>
<ellipse cx="909.6" cy="739.9" rx="6.1" ry="6.44" fill="#000"/>
<ellipse cx="927.3" cy="736.9" rx="6.1" ry="6.44" fill="#000"/>
<ellipse cx="945.2" cy="726.4" rx="6.1" ry="6.44" fill="#000"/>
<ellipse cx="891.6" cy="755.9" rx="6.1" ry="6.44" fill="#000"/>
<ellipse cx="909.6" cy="759.2" rx="6.1" ry="6.44" fill="#000"/>
<ellipse cx="927.3" cy="757.2" rx="6.1" ry="6.44" fill="#000"/>
<ellipse cx="945.2" cy="754" rx="6.1" ry="6.44" fill="#000"/>
<ellipse cx="847.58" cy="764" rx="6" ry="6.33" fill="#000"/>
<ellipse cx="856.44" cy="764" rx="6" ry="6.33" fill="#000"/>
<ellipse cx="865.3" cy="764" rx="6" ry="6.33" fill="#000"/>
<ellipse cx="874.16" cy="764" rx="6" ry="6.33" fill="#000"/>
<ellipse cx="883.02" cy="764" rx="6" ry="6.33" fill="#000"/>
<ellipse cx="891.88" cy="764" rx="6" ry="6.33" fill="#000"/>
<ellipse cx="900.74" cy="764" rx="6" ry="6.33" fill="#000"/>
<ellipse cx="909.6" cy="764" rx="6" ry="6.33" fill="#000"/>
<ellipse cx="918.46" cy="764" rx="6" ry="6.33" fill="#000"/>
<ellipse cx="927.32" cy="764" rx="6" ry="6.33" fill="#000"/>
<ellipse cx="936.18" cy="764" rx="6" ry="6.33" fill="#000"/>
<ellipse cx="945.04" cy="764" rx="6" ry="6.33" fill="#000"/>
<ellipse cx="953.9" cy="764" rx="6" ry="6.33" fill="#000"/>
<ellipse cx="962.76" cy="764" rx="6" ry="6.33" fill="#000"/>
<ellipse cx="971.62" cy="764" rx="6" ry="6.33" fill="#000"/>
<ellipse cx="852.01" cy="773" rx="6" ry="6.33" fill="#000"/>
<ellipse cx="860.87" cy="773" rx="6" ry="6.33" fill="#000"/>
<ellipse cx="869.73" cy="773" rx="6" ry="6.33" fill="#000"/>
<ellipse cx="878.59" cy="773" rx="6" ry="6.33" fill="#000"/>
<ellipse cx="887.45" cy="773" rx="6" ry="6.33" fill="#000"/>
<ellipse cx="896.31" cy="773" rx="6" ry="6.33" fill="#000"/>
<ellipse cx="905.17" cy="773" rx="6" ry="6.33" fill="#000"/>
<ellipse cx="914.03" cy="773" rx="6" ry="6.33" fill="#000"/>
<ellipse cx="922.89" cy="773" rx="6" ry="6.33" fill="#000"/>
<ellipse cx="931.75" cy="773" rx="6" ry="6.33" fill="#000"/>
<ellipse cx="940.61" cy="773" rx="6" ry="6.33" fill="#000"/>
<ellipse cx="949.47" cy="773" rx="6" ry="6.33" fill="#000"/>
<ellipse cx="958.33" cy="773" rx="6" ry="6.33" fill="#000"/>
<ellipse cx="967.19" cy="773" rx="6" ry="6.33" fill="#000"/>
<ellipse cx="847.58" cy="782" rx="6" ry="6.33" fill="#000"/>
<ellipse cx="856.44" cy="782" rx="6" ry="6.33" fill="#000"/>
<ellipse cx="865.3" cy="782" rx="6" ry="6.33" fill="#000"/>
<ellipse cx="874.16" cy="782" rx="6" ry="6.33" fill="#000"/>
<ellipse cx="883.02" cy="782" rx="6" ry="6.33" fill="#000"/>
<ellipse cx="891.88" cy="782" rx="6" ry="6.33" fill="#000"/>
<ellipse cx="900.74" cy="782" rx="6" ry="6.33" fill="#000"/>
<ellipse cx="909.6" cy="782" rx="6" ry="6.33" fill="#000"/>
<ellipse cx="918.46" cy="782" rx="6" ry="6.33" fill="#000"/>
<ellipse cx="927.32" cy="782" rx="6" ry="6.33" fill="#000"/>
<ellipse cx="936.18" cy="782" rx="6" ry="6.33" fill="#000"/>
<ellipse cx="945.04" cy="782" rx="6" ry="6.33" fill="#000"/>
<ellipse cx="953.9" cy="782" rx="6" ry="6.33" fill="#000"/>
<ellipse cx="962.76" cy="782" rx="6" ry="6.33" fill="#000"/>
<ellipse cx="971.62" cy="782" rx="6" ry="6.33" fill="#000"/>
<ellipse cx="852.01" cy="790" rx="6" ry="6.33" fill="#000"/>
<ellipse cx="860.87" cy="790" rx="6" ry="6.33" fill="#000"/>
<ellipse cx="869.73" cy="790" rx="6" ry="6.33" fill="#000"/>
<ellipse cx="878.59" cy="790" rx="6" ry="6.33" fill="#000"/>
<ellipse cx="887.45" cy="790" rx="6" ry="6.33" fill="#000"/>
<ellipse cx="896.31" cy="790" rx="6" ry="6.33" fill="#000"/>
<ellipse cx="905.17" cy="790" rx="6" ry="6.33" fill="#000"/>
<ellipse cx="914.03" cy="790" rx="6" ry="6.33" fill="#000"/>
<ellipse cx="922.89" cy="790" rx="6" ry="6.33" fill="#000"/>
<ellipse cx="931.75" cy="790" rx="6" ry="6.33" fill="#000"/>
<ellipse cx="940.61" cy="790" rx="6" ry="6.33" fill="#000"/>
<ellipse cx="949.47" cy="790" rx="6" ry="6.33" fill="#000"/>
<ellipse cx="958.33" cy="790" rx="6" ry="6.33" fill="#000"/>
<ellipse cx="891.88" cy="796" rx="6" ry="6.33" fill="#000"/>
<ellipse cx="909.6" cy="796" rx="6" ry="6.33" fill="#000"/>
<ellipse cx="927.32" cy="796" rx="6" ry="6.33" fill="#000"/>
<line x1="835.1" y1="766.2" x2="984.1" y2="766.2" stroke="#121212" stroke-width="3.2" stroke-linecap="butt"/>
<rect x="1125.65" y="561.73" width="12.3" height="12.55" fill="#000"/>
<rect x="1107.75" y="624.03" width="12.3" height="12.55" fill="#000"/>
<rect x="1125.65" y="631.03" width="12.3" height="12.55" fill="#000"/>
<rect x="1090.05" y="665.03" width="12.3" height="12.55" fill="#000"/>
<rect x="1125.65" y="658.63" width="12.3" height="12.55" fill="#000"/>
<rect x="1143.35" y="658.63" width="12.3" height="12.55" fill="#000"/>
<rect x="1107.75" y="679.23" width="12.3" height="12.55" fill="#000"/>
<rect x="1125.65" y="680.53" width="12.3" height="12.55" fill="#000"/>
<rect x="1143.35" y="677.93" width="12.3" height="12.55" fill="#000"/>
<rect x="1090.05" y="692.03" width="12.3" height="12.55" fill="#000"/>
<rect x="1107.75" y="694.23" width="12.3" height="12.55" fill="#000"/>
<rect x="1160.95" y="692.73" width="12.3" height="12.55" fill="#000"/>
<rect x="1178.65" y="690.13" width="12.3" height="12.55" fill="#000"/>
<rect x="1125.75" y="704.93" width="12.3" height="12.55" fill="#000"/>
<rect x="1143.75" y="700.43" width="12.3" height="12.55" fill="#000"/>
<rect x="1098.75" y="712.63" width="12.3" height="12.55" fill="#000"/>
<rect x="1071.85" y="717.13" width="12.3" height="12.55" fill="#000"/>
<rect x="1152.75" y="711.33" width="12.3" height="12.55" fill="#000"/>
<rect x="1178.45" y="715.83" width="12.3" height="12.55" fill="#000"/>
<rect x="1116.75" y="713.73" width="12.3" height="12.55" fill="#000"/>
<rect x="1134.75" y="713.73" width="12.3" height="12.55" fill="#000"/>
<rect x="1062.85" y="729.33" width="12.3" height="12.55" fill="#000"/>
<rect x="1188.05" y="731.23" width="12.3" height="12.55" fill="#000"/>
<rect x="1071.85" y="759.53" width="12.3" height="12.55" fill="#000"/>
<rect x="1089.85" y="760.73" width="12.3" height="12.55" fill="#000"/>
<rect x="1107.75" y="762.73" width="12.3" height="12.55" fill="#000"/>
<rect x="1125.75" y="764.63" width="12.3" height="12.55" fill="#000"/>
<rect x="1143.75" y="760.73" width="12.3" height="12.55" fill="#000"/>
<rect x="1161.05" y="760.13" width="12.3" height="12.55" fill="#000"/>
<rect x="1178.45" y="755.63" width="12.3" height="12.55" fill="#000"/>
<rect x="1107.75" y="775.53" width="12.3" height="12.55" fill="#000"/>
<rect x="1143.75" y="777.43" width="12.3" height="12.55" fill="#000"/>
<rect x="1125.75" y="785.13" width="12.3" height="12.55" fill="#000"/>
<rect x="1072.59" y="726.13" width="12.3" height="12.55" fill="#000"/>
<rect x="1090.31" y="726.13" width="12.3" height="12.55" fill="#000"/>
<rect x="1108.03" y="726.13" width="12.3" height="12.55" fill="#000"/>
<rect x="1125.75" y="726.13" width="12.3" height="12.55" fill="#000"/>
<rect x="1143.47" y="726.13" width="12.3" height="12.55" fill="#000"/>
<rect x="1161.19" y="726.13" width="12.3" height="12.55" fill="#000"/>
<rect x="1178.91" y="726.13" width="12.3" height="12.55" fill="#000"/>
<rect x="1072.59" y="744.13" width="12.3" height="12.55" fill="#000"/>
<rect x="1090.31" y="744.13" width="12.3" height="12.55" fill="#000"/>
<rect x="1108.03" y="744.13" width="12.3" height="12.55" fill="#000"/>
<rect x="1125.75" y="744.13" width="12.3" height="12.55" fill="#000"/>
<rect x="1143.47" y="744.13" width="12.3" height="12.55" fill="#000"/>
<rect x="1161.19" y="744.13" width="12.3" height="12.55" fill="#000"/>
<rect x="1178.91" y="744.13" width="12.3" height="12.55" fill="#000"/>
<rect x="1063.73" y="735.13" width="12.3" height="12.55" fill="#000"/>
<rect x="1081.45" y="735.13" width="12.3" height="12.55" fill="#000"/>
<rect x="1099.17" y="735.13" width="12.3" height="12.55" fill="#000"/>
<rect x="1116.89" y="735.13" width="12.3" height="12.55" fill="#000"/>
<rect x="1134.61" y="735.13" width="12.3" height="12.55" fill="#000"/>
<rect x="1152.33" y="735.13" width="12.3" height="12.55" fill="#000"/>
<rect x="1170.05" y="735.13" width="12.3" height="12.55" fill="#000"/>
<rect x="1187.77" y="735.13" width="12.3" height="12.55" fill="#000"/>
<rect x="1063.73" y="752.43" width="12.3" height="12.55" fill="#000"/>
<rect x="1081.45" y="752.43" width="12.3" height="12.55" fill="#000"/>
<rect x="1099.17" y="752.43" width="12.3" height="12.55" fill="#000"/>
<rect x="1116.89" y="752.43" width="12.3" height="12.55" fill="#000"/>
<rect x="1134.61" y="752.43" width="12.3" height="12.55" fill="#000"/>
<rect x="1152.33" y="752.43" width="12.3" height="12.55" fill="#000"/>
<rect x="1170.05" y="752.43" width="12.3" height="12.55" fill="#000"/>
<rect x="1187.77" y="752.43" width="12.3" height="12.55" fill="#000"/>
<line x1="1061" y1="728.5" x2="1206.4" y2="728.5" stroke="#121212" stroke-width="3.2" stroke-linecap="butt"/>
<line x1="187.7" y1="976.05" x2="187.7" y2="1258.55" stroke="#121212" stroke-width="3.3" stroke-linecap="butt"/>
<line x1="180.7" y1="977.7" x2="187.7" y2="977.7" stroke="#121212" stroke-width="3.2" stroke-linecap="butt"/>
<line x1="180.7" y1="1070.77" x2="187.7" y2="1070.77" stroke="#121212" stroke-width="3.2" stroke-linecap="butt"/>
<line x1="180.7" y1="1163.83" x2="187.7" y2="1163.83" stroke="#121212" stroke-width="3.2" stroke-linecap="butt"/>
<line x1="180.7" y1="1256.9" x2="187.7" y2="1256.9" stroke="#121212" stroke-width="3.2" stroke-linecap="butt"/>
<line x1="180.7" y1="1256.9" x2="565.1" y2="1256.9" stroke="#121212" stroke-width="3.3" stroke-linecap="round"/>
<line x1="282.2" y1="1256.9" x2="282.2" y2="1264.9" stroke="#121212" stroke-width="3.3" stroke-linecap="butt"/>
<line x1="470.9" y1="1256.9" x2="470.9" y2="1264.9" stroke="#121212" stroke-width="3.3" stroke-linecap="butt"/>
<line x1="282.2" y1="1114.7" x2="470.9" y2="1129.9" stroke="#111" stroke-width="2.3" stroke-linecap="butt"/>
<line x1="282.2" y1="1139.8" x2="470.9" y2="1021.2" stroke="#111" stroke-width="2.3" stroke-linecap="butt"/>
<line x1="282.2" y1="1140.6" x2="470.9" y2="1170.3" stroke="#111" stroke-width="2.3" stroke-linecap="butt"/>
<line x1="282.2" y1="1147.1" x2="470.9" y2="1133.5" stroke="#111" stroke-width="2.3" stroke-linecap="butt"/>
<line x1="282.2" y1="1197.7" x2="470.9" y2="1123.6" stroke="#111" stroke-width="2.3" stroke-linecap="butt"/>
<line x1="282.2" y1="1209.2" x2="470.9" y2="1138" stroke="#111" stroke-width="2.3" stroke-linecap="butt"/>
<line x1="282.2" y1="1215" x2="470.9" y2="1140.5" stroke="#111" stroke-width="2.3" stroke-linecap="butt"/>
<line x1="282.2" y1="1218" x2="470.9" y2="1143" stroke="#111" stroke-width="2.3" stroke-linecap="butt"/>
<line x1="282.2" y1="1207" x2="470.9" y2="1177.3" stroke="#111" stroke-width="2.3" stroke-linecap="butt"/>
<line x1="282.2" y1="1210" x2="470.9" y2="1181.2" stroke="#111" stroke-width="2.3" stroke-linecap="butt"/>
<line x1="282.2" y1="1226" x2="470.9" y2="1190.5" stroke="#111" stroke-width="2.3" stroke-linecap="butt"/>
<line x1="282.2" y1="1231" x2="470.9" y2="1207" stroke="#111" stroke-width="2.3" stroke-linecap="butt"/>
<line x1="282.2" y1="1254.5" x2="470.9" y2="1168" stroke="#111" stroke-width="2.3" stroke-linecap="butt"/>
<line x1="282.2" y1="1222" x2="470.9" y2="1157.3" stroke="#111" stroke-width="2.3" stroke-linecap="butt"/>
<ellipse cx="282.2" cy="1114.7" rx="4.9" ry="5.5" fill="#000"/>
<rect x="466.1" y="1125.1" width="9.6" height="9.6" fill="#000"/>
<ellipse cx="282.2" cy="1139.8" rx="4.9" ry="5.5" fill="#000"/>
<rect x="466.1" y="1016.4" width="9.6" height="9.6" fill="#000"/>
<ellipse cx="282.2" cy="1140.6" rx="4.9" ry="5.5" fill="#000"/>
<rect x="466.1" y="1165.5" width="9.6" height="9.6" fill="#000"/>
<ellipse cx="282.2" cy="1147.1" rx="4.9" ry="5.5" fill="#000"/>
<rect x="466.1" y="1128.7" width="9.6" height="9.6" fill="#000"/>
<ellipse cx="282.2" cy="1197.7" rx="4.9" ry="5.5" fill="#000"/>
<rect x="466.1" y="1118.8" width="9.6" height="9.6" fill="#000"/>
<ellipse cx="282.2" cy="1209.2" rx="4.9" ry="5.5" fill="#000"/>
<rect x="466.1" y="1133.2" width="9.6" height="9.6" fill="#000"/>
<ellipse cx="282.2" cy="1215" rx="4.9" ry="5.5" fill="#000"/>
<rect x="466.1" y="1135.7" width="9.6" height="9.6" fill="#000"/>
<ellipse cx="282.2" cy="1218" rx="4.9" ry="5.5" fill="#000"/>
<rect x="466.1" y="1138.2" width="9.6" height="9.6" fill="#000"/>
<ellipse cx="282.2" cy="1207" rx="4.9" ry="5.5" fill="#000"/>
<rect x="466.1" y="1172.5" width="9.6" height="9.6" fill="#000"/>
<ellipse cx="282.2" cy="1210" rx="4.9" ry="5.5" fill="#000"/>
<rect x="466.1" y="1176.4" width="9.6" height="9.6" fill="#000"/>
<ellipse cx="282.2" cy="1226" rx="4.9" ry="5.5" fill="#000"/>
<rect x="466.1" y="1185.7" width="9.6" height="9.6" fill="#000"/>
<ellipse cx="282.2" cy="1231" rx="4.9" ry="5.5" fill="#000"/>
<rect x="466.1" y="1202.2" width="9.6" height="9.6" fill="#000"/>
<ellipse cx="282.2" cy="1254.5" rx="4.9" ry="5.5" fill="#000"/>
<rect x="466.1" y="1163.2" width="9.6" height="9.6" fill="#000"/>
<ellipse cx="282.2" cy="1222" rx="4.9" ry="5.5" fill="#000"/>
<rect x="466.1" y="1152.5" width="9.6" height="9.6" fill="#000"/>
<polyline points="294.7,981.4 294.7,964.5 470,964.5 470,981.4" fill="none" stroke="#050505" stroke-width="4.3" stroke-linejoin="round" stroke-linecap="round"/>
<polygon points="368.5,945.6 367.49,949.01 364.38,948.3 366.48,951 364.38,953.7 367.49,952.99 368.5,956.4 369.51,952.99 372.62,953.7 370.52,951 372.62,948.3 369.51,949.01" fill="#6e6e6e"/>
<polygon points="380.3,945.6 379.29,949.01 376.18,948.3 378.28,951 376.18,953.7 379.29,952.99 380.3,956.4 381.31,952.99 384.42,953.7 382.32,951 384.42,948.3 381.31,949.01" fill="#6e6e6e"/>
<polygon points="391.9,945.6 390.89,949.01 387.78,948.3 389.88,951 387.78,953.7 390.89,952.99 391.9,956.4 392.91,952.99 396.02,953.7 393.92,951 396.02,948.3 392.91,949.01" fill="#6e6e6e"/>
<line x1="785.2" y1="982.95" x2="785.2" y2="1241.75" stroke="#121212" stroke-width="3.3" stroke-linecap="butt"/>
<line x1="778.2" y1="984.6" x2="785.2" y2="984.6" stroke="#121212" stroke-width="3.2" stroke-linecap="butt"/>
<line x1="778.2" y1="1069.77" x2="785.2" y2="1069.77" stroke="#121212" stroke-width="3.2" stroke-linecap="butt"/>
<line x1="778.2" y1="1154.93" x2="785.2" y2="1154.93" stroke="#121212" stroke-width="3.2" stroke-linecap="butt"/>
<line x1="778.2" y1="1240.1" x2="785.2" y2="1240.1" stroke="#121212" stroke-width="3.2" stroke-linecap="butt"/>
<line x1="778.2" y1="1240.1" x2="1133.4" y2="1240.1" stroke="#121212" stroke-width="3.3" stroke-linecap="round"/>
<line x1="872.2" y1="1240.1" x2="872.2" y2="1248.1" stroke="#121212" stroke-width="3.3" stroke-linecap="butt"/>
<line x1="1046" y1="1240.1" x2="1046" y2="1248.1" stroke="#121212" stroke-width="3.3" stroke-linecap="butt"/>
<line x1="872.2" y1="1060.7" x2="1046" y2="1054.6" stroke="#111" stroke-width="2.3" stroke-linecap="butt"/>
<line x1="872.2" y1="1126.6" x2="1046" y2="1115.5" stroke="#111" stroke-width="2.3" stroke-linecap="butt"/>
<line x1="872.2" y1="1147.8" x2="1046" y2="1006.6" stroke="#111" stroke-width="2.3" stroke-linecap="butt"/>
<line x1="872.2" y1="1149.7" x2="1046" y2="1097.1" stroke="#111" stroke-width="2.3" stroke-linecap="butt"/>
<line x1="872.2" y1="1152.5" x2="1046" y2="1108.1" stroke="#111" stroke-width="2.3" stroke-linecap="butt"/>
<line x1="872.2" y1="1157.1" x2="1046" y2="1119.2" stroke="#111" stroke-width="2.3" stroke-linecap="butt"/>
<line x1="872.2" y1="1163.5" x2="1046" y2="1175.5" stroke="#111" stroke-width="2.3" stroke-linecap="butt"/>
<line x1="872.2" y1="1166.3" x2="1046" y2="1093.4" stroke="#111" stroke-width="2.3" stroke-linecap="butt"/>
<line x1="872.2" y1="1168.1" x2="1046" y2="1122.9" stroke="#111" stroke-width="2.3" stroke-linecap="butt"/>
<line x1="872.2" y1="1172.8" x2="1046" y2="1126.6" stroke="#111" stroke-width="2.3" stroke-linecap="butt"/>
<line x1="872.2" y1="1182.9" x2="1046" y2="1100.8" stroke="#111" stroke-width="2.3" stroke-linecap="butt"/>
<line x1="872.2" y1="1193.1" x2="1046" y2="1122.9" stroke="#111" stroke-width="2.3" stroke-linecap="butt"/>
<line x1="872.2" y1="1205.1" x2="1046" y2="1175.5" stroke="#111" stroke-width="2.3" stroke-linecap="butt"/>
<line x1="872.2" y1="1205.1" x2="1046" y2="1136.8" stroke="#111" stroke-width="2.3" stroke-linecap="butt"/>
<line x1="872.2" y1="1205.1" x2="1046" y2="1119.2" stroke="#111" stroke-width="2.3" stroke-linecap="butt"/>
<ellipse cx="872.2" cy="1060.7" rx="4.6" ry="5.2" fill="#000"/>
<rect x="1041.4" y="1050" width="9.2" height="9.2" fill="#000"/>
<ellipse cx="872.2" cy="1126.6" rx="4.6" ry="5.2" fill="#000"/>
<rect x="1041.4" y="1110.9" width="9.2" height="9.2" fill="#000"/>
<ellipse cx="872.2" cy="1147.8" rx="4.6" ry="5.2" fill="#000"/>
<rect x="1041.4" y="1002" width="9.2" height="9.2" fill="#000"/>
<ellipse cx="872.2" cy="1149.7" rx="4.6" ry="5.2" fill="#000"/>
<rect x="1041.4" y="1092.5" width="9.2" height="9.2" fill="#000"/>
<ellipse cx="872.2" cy="1152.5" rx="4.6" ry="5.2" fill="#000"/>
<rect x="1041.4" y="1103.5" width="9.2" height="9.2" fill="#000"/>
<ellipse cx="872.2" cy="1157.1" rx="4.6" ry="5.2" fill="#000"/>
<rect x="1041.4" y="1114.6" width="9.2" height="9.2" fill="#000"/>
<ellipse cx="872.2" cy="1163.5" rx="4.6" ry="5.2" fill="#000"/>
<rect x="1041.4" y="1170.9" width="9.2" height="9.2" fill="#000"/>
<ellipse cx="872.2" cy="1166.3" rx="4.6" ry="5.2" fill="#000"/>
<rect x="1041.4" y="1088.8" width="9.2" height="9.2" fill="#000"/>
<ellipse cx="872.2" cy="1168.1" rx="4.6" ry="5.2" fill="#000"/>
<rect x="1041.4" y="1118.3" width="9.2" height="9.2" fill="#000"/>
<ellipse cx="872.2" cy="1172.8" rx="4.6" ry="5.2" fill="#000"/>
<rect x="1041.4" y="1122" width="9.2" height="9.2" fill="#000"/>
<ellipse cx="872.2" cy="1182.9" rx="4.6" ry="5.2" fill="#000"/>
<rect x="1041.4" y="1096.2" width="9.2" height="9.2" fill="#000"/>
<ellipse cx="872.2" cy="1193.1" rx="4.6" ry="5.2" fill="#000"/>
<rect x="1041.4" y="1118.3" width="9.2" height="9.2" fill="#000"/>
<ellipse cx="872.2" cy="1205.1" rx="4.6" ry="5.2" fill="#000"/>
<rect x="1041.4" y="1170.9" width="9.2" height="9.2" fill="#000"/>
<ellipse cx="872.2" cy="1205.1" rx="4.6" ry="5.2" fill="#000"/>
<rect x="1041.4" y="1132.2" width="9.2" height="9.2" fill="#000"/>
<ellipse cx="872.2" cy="1205.1" rx="4.6" ry="5.2" fill="#000"/>
<rect x="1041.4" y="1114.6" width="9.2" height="9.2" fill="#000"/>
<polyline points="872.6,974.4 872.6,957.3 1047.4,957.3 1047.4,974.4" fill="none" stroke="#050505" stroke-width="4.3" stroke-linejoin="round" stroke-linecap="round"/>
<polygon points="956.5,933.4 955.49,936.81 952.38,936.1 954.48,938.8 952.38,941.5 955.49,940.79 956.5,944.2 957.51,940.79 960.62,941.5 958.52,938.8 960.62,936.1 957.51,936.81" fill="#6e6e6e"/>
<line x1="187.8" y1="1421.25" x2="187.8" y2="1703.65" stroke="#121212" stroke-width="3.3" stroke-linecap="butt"/>
<line x1="180.8" y1="1422.9" x2="187.8" y2="1422.9" stroke="#121212" stroke-width="3.2" stroke-linecap="butt"/>
<line x1="180.8" y1="1492.68" x2="187.8" y2="1492.68" stroke="#121212" stroke-width="3.2" stroke-linecap="butt"/>
<line x1="180.8" y1="1562.45" x2="187.8" y2="1562.45" stroke="#121212" stroke-width="3.2" stroke-linecap="butt"/>
<line x1="180.8" y1="1632.22" x2="187.8" y2="1632.22" stroke="#121212" stroke-width="3.2" stroke-linecap="butt"/>
<line x1="180.8" y1="1702" x2="187.8" y2="1702" stroke="#121212" stroke-width="3.2" stroke-linecap="butt"/>
<line x1="180.8" y1="1702" x2="565.1" y2="1702" stroke="#121212" stroke-width="3.3" stroke-linecap="round"/>
<line x1="282.1" y1="1702" x2="282.1" y2="1710" stroke="#121212" stroke-width="3.3" stroke-linecap="butt"/>
<line x1="470.9" y1="1702" x2="470.9" y2="1710" stroke="#121212" stroke-width="3.3" stroke-linecap="butt"/>
<line x1="282.1" y1="1541.7" x2="470.9" y2="1567.3" stroke="#111" stroke-width="2.3" stroke-linecap="butt"/>
<line x1="282.1" y1="1588.5" x2="470.9" y2="1482.6" stroke="#111" stroke-width="2.3" stroke-linecap="butt"/>
<line x1="282.1" y1="1611.6" x2="470.9" y2="1700.2" stroke="#111" stroke-width="2.3" stroke-linecap="butt"/>
<line x1="282.1" y1="1612.6" x2="470.9" y2="1603.9" stroke="#111" stroke-width="2.3" stroke-linecap="butt"/>
<line x1="282.1" y1="1614.5" x2="470.9" y2="1551.9" stroke="#111" stroke-width="2.3" stroke-linecap="butt"/>
<line x1="282.1" y1="1620.3" x2="470.9" y2="1515.3" stroke="#111" stroke-width="2.3" stroke-linecap="butt"/>
<line x1="282.1" y1="1624.2" x2="470.9" y2="1566.4" stroke="#111" stroke-width="2.3" stroke-linecap="butt"/>
<line x1="282.1" y1="1636.7" x2="470.9" y2="1607.8" stroke="#111" stroke-width="2.3" stroke-linecap="butt"/>
<line x1="282.1" y1="1650.2" x2="470.9" y2="1582.7" stroke="#111" stroke-width="2.3" stroke-linecap="butt"/>
<line x1="282.1" y1="1662.7" x2="470.9" y2="1441.2" stroke="#111" stroke-width="2.3" stroke-linecap="butt"/>
<line x1="282.1" y1="1668.5" x2="470.9" y2="1460.4" stroke="#111" stroke-width="2.3" stroke-linecap="butt"/>
<line x1="282.1" y1="1676.2" x2="470.9" y2="1587.6" stroke="#111" stroke-width="2.3" stroke-linecap="butt"/>
<line x1="282.1" y1="1698.3" x2="470.9" y2="1525" stroke="#111" stroke-width="2.3" stroke-linecap="butt"/>
<ellipse cx="282.1" cy="1541.7" rx="4.9" ry="5.5" fill="#000"/>
<rect x="466.1" y="1562.5" width="9.6" height="9.6" fill="#000"/>
<ellipse cx="282.1" cy="1588.5" rx="4.9" ry="5.5" fill="#000"/>
<rect x="466.1" y="1477.8" width="9.6" height="9.6" fill="#000"/>
<ellipse cx="282.1" cy="1611.6" rx="4.9" ry="5.5" fill="#000"/>
<rect x="466.1" y="1695.4" width="9.6" height="9.6" fill="#000"/>
<ellipse cx="282.1" cy="1612.6" rx="4.9" ry="5.5" fill="#000"/>
<rect x="466.1" y="1599.1" width="9.6" height="9.6" fill="#000"/>
<ellipse cx="282.1" cy="1614.5" rx="4.9" ry="5.5" fill="#000"/>
<rect x="466.1" y="1547.1" width="9.6" height="9.6" fill="#000"/>
<ellipse cx="282.1" cy="1620.3" rx="4.9" ry="5.5" fill="#000"/>
<rect x="466.1" y="1510.5" width="9.6" height="9.6" fill="#000"/>
<ellipse cx="282.1" cy="1624.2" rx="4.9" ry="5.5" fill="#000"/>
<rect x="466.1" y="1561.6" width="9.6" height="9.6" fill="#000"/>
<ellipse cx="282.1" cy="1636.7" rx="4.9" ry="5.5" fill="#000"/>
<rect x="466.1" y="1603" width="9.6" height="9.6" fill="#000"/>
<ellipse cx="282.1" cy="1650.2" rx="4.9" ry="5.5" fill="#000"/>
<rect x="466.1" y="1577.9" width="9.6" height="9.6" fill="#000"/>
<ellipse cx="282.1" cy="1662.7" rx="4.9" ry="5.5" fill="#000"/>
<rect x="466.1" y="1436.4" width="9.6" height="9.6" fill="#000"/>
<ellipse cx="282.1" cy="1668.5" rx="4.9" ry="5.5" fill="#000"/>
<rect x="466.1" y="1455.6" width="9.6" height="9.6" fill="#000"/>
<ellipse cx="282.1" cy="1676.2" rx="4.9" ry="5.5" fill="#000"/>
<rect x="466.1" y="1582.8" width="9.6" height="9.6" fill="#000"/>
<ellipse cx="282.1" cy="1698.3" rx="4.9" ry="5.5" fill="#000"/>
<rect x="466.1" y="1520.2" width="9.6" height="9.6" fill="#000"/>
<polyline points="286,1405.1 286,1389.5 467.7,1389.5 467.7,1405.1" fill="none" stroke="#050505" stroke-width="4.3" stroke-linejoin="round" stroke-linecap="round"/>
<polygon points="373.1,1369 372.09,1372.41 368.98,1371.7 371.08,1374.4 368.98,1377.1 372.09,1376.39 373.1,1379.8 374.11,1376.39 377.22,1377.1 375.12,1374.4 377.22,1371.7 374.11,1372.41" fill="#6e6e6e"/>
<line x1="773.2" y1="1425.85" x2="773.2" y2="1708.15" stroke="#121212" stroke-width="3.3" stroke-linecap="butt"/>
<line x1="766.2" y1="1427.5" x2="773.2" y2="1427.5" stroke="#121212" stroke-width="3.2" stroke-linecap="butt"/>
<line x1="766.2" y1="1483.3" x2="773.2" y2="1483.3" stroke="#121212" stroke-width="3.2" stroke-linecap="butt"/>
<line x1="766.2" y1="1539.1" x2="773.2" y2="1539.1" stroke="#121212" stroke-width="3.2" stroke-linecap="butt"/>
<line x1="766.2" y1="1594.9" x2="773.2" y2="1594.9" stroke="#121212" stroke-width="3.2" stroke-linecap="butt"/>
<line x1="766.2" y1="1650.7" x2="773.2" y2="1650.7" stroke="#121212" stroke-width="3.2" stroke-linecap="butt"/>
<line x1="766.2" y1="1706.5" x2="773.2" y2="1706.5" stroke="#121212" stroke-width="3.2" stroke-linecap="butt"/>
<line x1="766.2" y1="1706.5" x2="1149.9" y2="1706.5" stroke="#121212" stroke-width="3.3" stroke-linecap="round"/>
<line x1="867.5" y1="1706.5" x2="867.5" y2="1714.5" stroke="#121212" stroke-width="3.3" stroke-linecap="butt"/>
<line x1="1056.8" y1="1706.5" x2="1056.8" y2="1714.5" stroke="#121212" stroke-width="3.3" stroke-linecap="butt"/>
<line x1="867.5" y1="1581.4" x2="1056.8" y2="1625.7" stroke="#111" stroke-width="2.3" stroke-linecap="butt"/>
<line x1="867.5" y1="1611.8" x2="1056.8" y2="1555.5" stroke="#111" stroke-width="2.3" stroke-linecap="butt"/>
<line x1="867.5" y1="1615.5" x2="1056.8" y2="1604.5" stroke="#111" stroke-width="2.3" stroke-linecap="butt"/>
<line x1="867.5" y1="1641.4" x2="1056.8" y2="1538.9" stroke="#111" stroke-width="2.3" stroke-linecap="butt"/>
<line x1="867.5" y1="1649.7" x2="1056.8" y2="1646.9" stroke="#111" stroke-width="2.3" stroke-linecap="butt"/>
<line x1="867.5" y1="1657.1" x2="1056.8" y2="1454.9" stroke="#111" stroke-width="2.3" stroke-linecap="butt"/>
<line x1="867.5" y1="1662.6" x2="1056.8" y2="1537.1" stroke="#111" stroke-width="2.3" stroke-linecap="butt"/>
<line x1="867.5" y1="1665.4" x2="1056.8" y2="1568.5" stroke="#111" stroke-width="2.3" stroke-linecap="butt"/>
<line x1="867.5" y1="1670.9" x2="1056.8" y2="1505.7" stroke="#111" stroke-width="2.3" stroke-linecap="butt"/>
<line x1="867.5" y1="1675.5" x2="1056.8" y2="1622.9" stroke="#111" stroke-width="2.3" stroke-linecap="butt"/>
<line x1="867.5" y1="1681.1" x2="1056.8" y2="1608.1" stroke="#111" stroke-width="2.3" stroke-linecap="butt"/>
<line x1="867.5" y1="1693.1" x2="1056.8" y2="1627.5" stroke="#111" stroke-width="2.3" stroke-linecap="butt"/>
<line x1="867.5" y1="1695.8" x2="1056.8" y2="1623.8" stroke="#111" stroke-width="2.3" stroke-linecap="butt"/>
<line x1="867.5" y1="1700" x2="1056.8" y2="1622" stroke="#111" stroke-width="2.3" stroke-linecap="butt"/>
<ellipse cx="867.5" cy="1581.4" rx="4.6" ry="5.2" fill="#000"/>
<rect x="1052.2" y="1621.1" width="9.2" height="9.2" fill="#000"/>
<ellipse cx="867.5" cy="1611.8" rx="4.6" ry="5.2" fill="#000"/>
<rect x="1052.2" y="1550.9" width="9.2" height="9.2" fill="#000"/>
<ellipse cx="867.5" cy="1615.5" rx="4.6" ry="5.2" fill="#000"/>
<rect x="1052.2" y="1599.9" width="9.2" height="9.2" fill="#000"/>
<ellipse cx="867.5" cy="1641.4" rx="4.6" ry="5.2" fill="#000"/>
<rect x="1052.2" y="1534.3" width="9.2" height="9.2" fill="#000"/>
<ellipse cx="867.5" cy="1649.7" rx="4.6" ry="5.2" fill="#000"/>
<rect x="1052.2" y="1642.3" width="9.2" height="9.2" fill="#000"/>
<ellipse cx="867.5" cy="1657.1" rx="4.6" ry="5.2" fill="#000"/>
<rect x="1052.2" y="1450.3" width="9.2" height="9.2" fill="#000"/>
<ellipse cx="867.5" cy="1662.6" rx="4.6" ry="5.2" fill="#000"/>
<rect x="1052.2" y="1532.5" width="9.2" height="9.2" fill="#000"/>
<ellipse cx="867.5" cy="1665.4" rx="4.6" ry="5.2" fill="#000"/>
<rect x="1052.2" y="1563.9" width="9.2" height="9.2" fill="#000"/>
<ellipse cx="867.5" cy="1670.9" rx="4.6" ry="5.2" fill="#000"/>
<rect x="1052.2" y="1501.1" width="9.2" height="9.2" fill="#000"/>
<ellipse cx="867.5" cy="1675.5" rx="4.6" ry="5.2" fill="#000"/>
<rect x="1052.2" y="1618.3" width="9.2" height="9.2" fill="#000"/>
<ellipse cx="867.5" cy="1681.1" rx="4.6" ry="5.2" fill="#000"/>
<rect x="1052.2" y="1603.5" width="9.2" height="9.2" fill="#000"/>
<ellipse cx="867.5" cy="1693.1" rx="4.6" ry="5.2" fill="#000"/>
<rect x="1052.2" y="1622.9" width="9.2" height="9.2" fill="#000"/>
<ellipse cx="867.5" cy="1695.8" rx="4.6" ry="5.2" fill="#000"/>
<rect x="1052.2" y="1619.2" width="9.2" height="9.2" fill="#000"/>
<ellipse cx="867.5" cy="1700" rx="4.6" ry="5.2" fill="#000"/>
<rect x="1052.2" y="1617.4" width="9.2" height="9.2" fill="#000"/>
<polyline points="864.9,1424.4 864.9,1405.7 1056.2,1405.7 1056.2,1424.4" fill="none" stroke="#050505" stroke-width="4.3" stroke-linejoin="round" stroke-linecap="round"/>
<polygon points="950.7,1379.8 949.69,1383.21 946.58,1382.5 948.68,1385.2 946.58,1387.9 949.69,1387.19 950.7,1390.6 951.71,1387.19 954.82,1387.9 952.72,1385.2 954.82,1382.5 951.71,1383.21" fill="#6e6e6e"/>
<polygon points="962.5,1379.8 961.49,1383.21 958.38,1382.5 960.48,1385.2 958.38,1387.9 961.49,1387.19 962.5,1390.6 963.51,1387.19 966.62,1387.9 964.52,1385.2 966.62,1382.5 963.51,1383.21" fill="#6e6e6e"/>
<line x1="152.5" y1="1848.45" x2="152.5" y2="2206.65" stroke="#121212" stroke-width="3.3" stroke-linecap="butt"/>
<line x1="143.5" y1="1850.1" x2="152.5" y2="1850.1" stroke="#121212" stroke-width="3.2" stroke-linecap="butt"/>
<line x1="143.5" y1="1938.82" x2="152.5" y2="1938.82" stroke="#121212" stroke-width="3.2" stroke-linecap="butt"/>
<line x1="143.5" y1="2027.55" x2="152.5" y2="2027.55" stroke="#121212" stroke-width="3.2" stroke-linecap="butt"/>
<line x1="143.5" y1="2116.28" x2="152.5" y2="2116.28" stroke="#121212" stroke-width="3.2" stroke-linecap="butt"/>
<line x1="143.5" y1="2205" x2="152.5" y2="2205" stroke="#121212" stroke-width="3.2" stroke-linecap="butt"/>
<line x1="143.5" y1="2205" x2="602.2" y2="2205" stroke="#121212" stroke-width="3.3" stroke-linecap="round"/>
<line x1="152.5" y1="2205" x2="152.5" y2="2215" stroke="#121212" stroke-width="3.3" stroke-linecap="butt"/>
<line x1="265.1" y1="2205" x2="265.1" y2="2215" stroke="#121212" stroke-width="3.3" stroke-linecap="butt"/>
<line x1="377.7" y1="2205" x2="377.7" y2="2215" stroke="#121212" stroke-width="3.3" stroke-linecap="butt"/>
<line x1="490.3" y1="2205" x2="490.3" y2="2215" stroke="#121212" stroke-width="3.3" stroke-linecap="butt"/>
<line x1="602.9" y1="2205" x2="602.9" y2="2215" stroke="#121212" stroke-width="3.3" stroke-linecap="butt"/>
<line x1="193.1" y1="2120.1" x2="532.5" y2="2136.6" stroke="#121212" stroke-width="2.8" stroke-linecap="butt"/>
<ellipse cx="194.5" cy="1904.1" rx="5.9" ry="7.3" fill="#111"/>
<ellipse cx="216.1" cy="1984.1" rx="5.9" ry="7.3" fill="#111"/>
<ellipse cx="222.6" cy="1991.7" rx="5.9" ry="7.3" fill="#111"/>
<ellipse cx="234.2" cy="2006.1" rx="5.9" ry="7.3" fill="#111"/>
<ellipse cx="223.2" cy="2014.6" rx="5.9" ry="7.3" fill="#111"/>
<ellipse cx="227.8" cy="2030.6" rx="5.9" ry="7.3" fill="#111"/>
<ellipse cx="312.9" cy="1989.1" rx="5.9" ry="7.3" fill="#111"/>
<ellipse cx="302" cy="2045.9" rx="5.9" ry="7.3" fill="#111"/>
<ellipse cx="280" cy="2054.3" rx="5.9" ry="7.3" fill="#111"/>
<ellipse cx="273.3" cy="2062.7" rx="5.9" ry="7.3" fill="#111"/>
<ellipse cx="280" cy="2063.3" rx="5.9" ry="7.3" fill="#111"/>
<ellipse cx="198.1" cy="2096.4" rx="5.9" ry="7.3" fill="#111"/>
<ellipse cx="211.1" cy="2102.1" rx="5.9" ry="7.3" fill="#111"/>
<ellipse cx="234.6" cy="2106.9" rx="5.9" ry="7.3" fill="#111"/>
<ellipse cx="271.3" cy="2110.1" rx="5.9" ry="7.3" fill="#111"/>
<ellipse cx="346.2" cy="2116.5" rx="5.9" ry="7.3" fill="#111"/>
<ellipse cx="394.3" cy="2116.1" rx="5.9" ry="7.3" fill="#111"/>
<ellipse cx="236.2" cy="2128.5" rx="5.9" ry="7.3" fill="#111"/>
<ellipse cx="241" cy="2130" rx="5.9" ry="7.3" fill="#111"/>
<ellipse cx="247.2" cy="2133.6" rx="5.9" ry="7.3" fill="#111"/>
<ellipse cx="268.3" cy="2126.5" rx="5.9" ry="7.3" fill="#111"/>
<ellipse cx="265.3" cy="2132.6" rx="5.9" ry="7.3" fill="#111"/>
<ellipse cx="294.8" cy="2130.5" rx="5.9" ry="7.3" fill="#111"/>
<ellipse cx="305.4" cy="2125.5" rx="5.9" ry="7.3" fill="#111"/>
<ellipse cx="201.7" cy="2142.2" rx="5.9" ry="7.3" fill="#111"/>
<ellipse cx="218.2" cy="2140.6" rx="5.9" ry="7.3" fill="#111"/>
<ellipse cx="235.2" cy="2142.6" rx="5.9" ry="7.3" fill="#111"/>
<ellipse cx="280.4" cy="2143" rx="5.9" ry="7.3" fill="#111"/>
<ellipse cx="389.1" cy="2136.2" rx="5.9" ry="7.3" fill="#111"/>
<ellipse cx="404.3" cy="2147" rx="5.9" ry="7.3" fill="#111"/>
<ellipse cx="265.9" cy="2146.6" rx="5.9" ry="7.3" fill="#111"/>
<ellipse cx="312.1" cy="2154.2" rx="5.9" ry="7.3" fill="#111"/>
<ellipse cx="330.5" cy="2152.6" rx="5.9" ry="7.3" fill="#111"/>
<ellipse cx="221.8" cy="2159.6" rx="5.9" ry="7.3" fill="#111"/>
<ellipse cx="214.1" cy="2164.7" rx="5.9" ry="7.3" fill="#111"/>
<ellipse cx="198.1" cy="2166.3" rx="5.9" ry="7.3" fill="#111"/>
<ellipse cx="238.2" cy="2165.1" rx="5.9" ry="7.3" fill="#111"/>
<ellipse cx="247.2" cy="2165.7" rx="5.9" ry="7.3" fill="#111"/>
<ellipse cx="252.3" cy="2152.6" rx="5.9" ry="7.3" fill="#111"/>
<ellipse cx="250.3" cy="2158.6" rx="5.9" ry="7.3" fill="#111"/>
<ellipse cx="258.3" cy="2160.6" rx="5.9" ry="7.3" fill="#111"/>
<ellipse cx="260.3" cy="2166.7" rx="5.9" ry="7.3" fill="#111"/>
<ellipse cx="268.3" cy="2160.6" rx="5.9" ry="7.3" fill="#111"/>
<ellipse cx="264.3" cy="2156.6" rx="5.9" ry="7.3" fill="#111"/>
<ellipse cx="244.2" cy="2158.6" rx="5.9" ry="7.3" fill="#111"/>
<ellipse cx="193.7" cy="2178.7" rx="5.9" ry="7.3" fill="#111"/>
<ellipse cx="214.5" cy="2180.7" rx="5.9" ry="7.3" fill="#111"/>
<ellipse cx="212.1" cy="2190.7" rx="5.9" ry="7.3" fill="#111"/>
<ellipse cx="273.3" cy="2178.7" rx="5.9" ry="7.3" fill="#111"/>
<ellipse cx="277.3" cy="2175.7" rx="5.9" ry="7.3" fill="#111"/>
<ellipse cx="272.3" cy="2182.7" rx="5.9" ry="7.3" fill="#111"/>
<ellipse cx="346.2" cy="2186.7" rx="5.9" ry="7.3" fill="#111"/>
<ellipse cx="351.6" cy="2185.1" rx="5.9" ry="7.3" fill="#111"/>
<ellipse cx="271.9" cy="2198.8" rx="5.9" ry="7.3" fill="#111"/>
<ellipse cx="284.4" cy="2201.8" rx="5.9" ry="7.3" fill="#111"/>
<ellipse cx="298" cy="2197.8" rx="5.9" ry="7.3" fill="#111"/>
<ellipse cx="454.2" cy="1976.7" rx="5.9" ry="7.3" fill="#111"/>
<ellipse cx="433.8" cy="2128.6" rx="5.9" ry="7.3" fill="#111"/>
<ellipse cx="469.3" cy="2140.6" rx="5.9" ry="7.3" fill="#111"/>
<ellipse cx="534.9" cy="2149" rx="5.9" ry="7.3" fill="#111"/>
<line x1="765.6" y1="1843.45" x2="765.6" y2="2209.15" stroke="#121212" stroke-width="3.3" stroke-linecap="butt"/>
<line x1="756.6" y1="1845.1" x2="765.6" y2="1845.1" stroke="#121212" stroke-width="3.2" stroke-linecap="butt"/>
<line x1="756.6" y1="1935.7" x2="765.6" y2="1935.7" stroke="#121212" stroke-width="3.2" stroke-linecap="butt"/>
<line x1="756.6" y1="2026.3" x2="765.6" y2="2026.3" stroke="#121212" stroke-width="3.2" stroke-linecap="butt"/>
<line x1="756.6" y1="2116.9" x2="765.6" y2="2116.9" stroke="#121212" stroke-width="3.2" stroke-linecap="butt"/>
<line x1="756.6" y1="2207.5" x2="765.6" y2="2207.5" stroke="#121212" stroke-width="3.2" stroke-linecap="butt"/>
<line x1="756.6" y1="2207.5" x2="1227" y2="2207.5" stroke="#121212" stroke-width="3.3" stroke-linecap="round"/>
<line x1="765.6" y1="2207.5" x2="765.6" y2="2218.5" stroke="#121212" stroke-width="3.3" stroke-linecap="butt"/>
<line x1="880.85" y1="2207.5" x2="880.85" y2="2218.5" stroke="#121212" stroke-width="3.3" stroke-linecap="butt"/>
<line x1="996.1" y1="2207.5" x2="996.1" y2="2218.5" stroke="#121212" stroke-width="3.3" stroke-linecap="butt"/>
<line x1="1111.35" y1="2207.5" x2="1111.35" y2="2218.5" stroke="#121212" stroke-width="3.3" stroke-linecap="butt"/>
<line x1="1226.6" y1="2207.5" x2="1226.6" y2="2218.5" stroke="#121212" stroke-width="3.3" stroke-linecap="butt"/>
<line x1="766.4" y1="2151.6" x2="1177.4" y2="2003.3" stroke="#121212" stroke-width="2.8" stroke-linecap="butt"/>
<ellipse cx="945.4" cy="1900.7" rx="5.9" ry="7.3" fill="#111"/>
<ellipse cx="1159.5" cy="1987.3" rx="5.9" ry="7.3" fill="#111"/>
<ellipse cx="1176" cy="2180.4" rx="5.9" ry="7.3" fill="#111"/>
<ellipse cx="890.5" cy="1974.1" rx="5.9" ry="7.3" fill="#111"/>
<ellipse cx="872.5" cy="1982.4" rx="5.9" ry="7.3" fill="#111"/>
<ellipse cx="872.5" cy="1990.7" rx="5.9" ry="7.3" fill="#111"/>
<ellipse cx="858.9" cy="2004.3" rx="5.9" ry="7.3" fill="#111"/>
<ellipse cx="793.2" cy="2013" rx="5.9" ry="7.3" fill="#111"/>
<ellipse cx="864.7" cy="2029.6" rx="5.9" ry="7.3" fill="#111"/>
<ellipse cx="895.3" cy="2044.6" rx="5.9" ry="7.3" fill="#111"/>
<ellipse cx="838.4" cy="2054.4" rx="5.9" ry="7.3" fill="#111"/>
<ellipse cx="831.1" cy="2062.6" rx="5.9" ry="7.3" fill="#111"/>
<ellipse cx="799.5" cy="2063.6" rx="5.9" ry="7.3" fill="#111"/>
<ellipse cx="765.7" cy="2097.1" rx="5.9" ry="7.3" fill="#111"/>
<ellipse cx="787.1" cy="2117.1" rx="5.9" ry="7.3" fill="#111"/>
<ellipse cx="814.1" cy="2102.5" rx="5.9" ry="7.3" fill="#111"/>
<ellipse cx="819.6" cy="2107.3" rx="5.9" ry="7.3" fill="#111"/>
<ellipse cx="840.7" cy="2116.2" rx="5.9" ry="7.3" fill="#111"/>
<ellipse cx="858.9" cy="2110.7" rx="5.9" ry="7.3" fill="#111"/>
<ellipse cx="780.3" cy="2133.9" rx="5.9" ry="7.3" fill="#111"/>
<ellipse cx="790.9" cy="2142.8" rx="5.9" ry="7.3" fill="#111"/>
<ellipse cx="786.2" cy="2144.1" rx="5.9" ry="7.3" fill="#111"/>
<ellipse cx="806.6" cy="2127.7" rx="5.9" ry="7.3" fill="#111"/>
<ellipse cx="819.6" cy="2126.4" rx="5.9" ry="7.3" fill="#111"/>
<ellipse cx="833.5" cy="2129.8" rx="5.9" ry="7.3" fill="#111"/>
<ellipse cx="848.2" cy="2130.5" rx="5.9" ry="7.3" fill="#111"/>
<ellipse cx="849.6" cy="2135.9" rx="5.9" ry="7.3" fill="#111"/>
<ellipse cx="864.3" cy="2128.4" rx="5.9" ry="7.3" fill="#111"/>
<ellipse cx="898" cy="2131.6" rx="5.9" ry="7.3" fill="#111"/>
<ellipse cx="825" cy="2142.8" rx="5.9" ry="7.3" fill="#111"/>
<ellipse cx="821.6" cy="2150.9" rx="5.9" ry="7.3" fill="#111"/>
<ellipse cx="807.3" cy="2142.8" rx="5.9" ry="7.3" fill="#111"/>
<ellipse cx="781.4" cy="2158.4" rx="5.9" ry="7.3" fill="#111"/>
<ellipse cx="784.8" cy="2169.4" rx="5.9" ry="7.3" fill="#111"/>
<ellipse cx="799.1" cy="2159.1" rx="5.9" ry="7.3" fill="#111"/>
<ellipse cx="805.9" cy="2153.7" rx="5.9" ry="7.3" fill="#111"/>
<ellipse cx="804.6" cy="2167.3" rx="5.9" ry="7.3" fill="#111"/>
<ellipse cx="846.2" cy="2148.9" rx="5.9" ry="7.3" fill="#111"/>
<ellipse cx="867.1" cy="2148.2" rx="5.9" ry="7.3" fill="#111"/>
<ellipse cx="845.5" cy="2162.5" rx="5.9" ry="7.3" fill="#111"/>
<ellipse cx="850.3" cy="2166.6" rx="5.9" ry="7.3" fill="#111"/>
<ellipse cx="868" cy="2164.6" rx="5.9" ry="7.3" fill="#111"/>
<ellipse cx="885.7" cy="2160.5" rx="5.9" ry="7.3" fill="#111"/>
<ellipse cx="818.2" cy="2167.3" rx="5.9" ry="7.3" fill="#111"/>
<ellipse cx="825.7" cy="2167.3" rx="5.9" ry="7.3" fill="#111"/>
<ellipse cx="799.8" cy="2177.5" rx="5.9" ry="7.3" fill="#111"/>
<ellipse cx="851.6" cy="2180.3" rx="5.9" ry="7.3" fill="#111"/>
<ellipse cx="812.1" cy="2187.8" rx="5.9" ry="7.3" fill="#111"/>
<ellipse cx="827.8" cy="2188.5" rx="5.9" ry="7.3" fill="#111"/>
<ellipse cx="799.1" cy="2193.2" rx="5.9" ry="7.3" fill="#111"/>
<ellipse cx="788.9" cy="2197.3" rx="5.9" ry="7.3" fill="#111"/>
<ellipse cx="767.7" cy="2190.5" rx="5.9" ry="7.3" fill="#111"/>
<ellipse cx="771.8" cy="2198.7" rx="5.9" ry="7.3" fill="#111"/>
<ellipse cx="766.4" cy="2204.1" rx="5.9" ry="7.3" fill="#111"/>
<ellipse cx="822" cy="2135" rx="5.9" ry="7.3" fill="#111"/>
<ellipse cx="826" cy="2156" rx="5.9" ry="7.3" fill="#111"/>
<ellipse cx="801" cy="2165" rx="5.9" ry="7.3" fill="#111"/>
<ellipse cx="806" cy="2175" rx="5.9" ry="7.3" fill="#111"/>
<ellipse cx="803" cy="2184" rx="5.9" ry="7.3" fill="#111"/>
<ellipse cx="810" cy="2148" rx="5.9" ry="7.3" fill="#111"/>
<ellipse cx="823" cy="2145" rx="5.9" ry="7.3" fill="#111"/>
<ellipse cx="827" cy="2153" rx="5.9" ry="7.3" fill="#111"/>
<ellipse cx="813" cy="2156" rx="5.9" ry="7.3" fill="#111"/>
<text x="113.25" y="71.72" font-family="Liberation Sans" font-size="22.96" font-weight="bold" font-style="normal" fill="#111" textLength="41.41" lengthAdjust="spacingAndGlyphs" style="white-space:pre;">0.25</text>
<text x="113.24" y="131.04" font-family="Liberation Sans" font-size="22.96" font-weight="bold" font-style="normal" fill="#111" textLength="41.86" lengthAdjust="spacingAndGlyphs" style="white-space:pre;">0.20</text>
<text x="113.25" y="190.36" font-family="Liberation Sans" font-size="22.96" font-weight="bold" font-style="normal" fill="#111" textLength="41.41" lengthAdjust="spacingAndGlyphs" style="white-space:pre;">0.15</text>
<text x="113.24" y="249.68" font-family="Liberation Sans" font-size="22.96" font-weight="bold" font-style="normal" fill="#111" textLength="41.86" lengthAdjust="spacingAndGlyphs" style="white-space:pre;">0.10</text>
<text x="113.25" y="309" font-family="Liberation Sans" font-size="22.96" font-weight="bold" font-style="normal" fill="#111" textLength="41.41" lengthAdjust="spacingAndGlyphs" style="white-space:pre;">0.05</text>
<text x="113.24" y="368.32" font-family="Liberation Sans" font-size="22.96" font-weight="bold" font-style="normal" fill="#111" textLength="41.86" lengthAdjust="spacingAndGlyphs" style="white-space:pre;">0.00</text>
<text x="-0.04" y="102.1" font-family="Liberation Serif" font-size="56.52" font-weight="bold" font-style="normal" fill="#111" textLength="39" lengthAdjust="spacingAndGlyphs" style="white-space:pre;">A</text>
<text x="99.06" y="378.93" font-family="Liberation Serif" font-size="23.86" font-weight="bold" font-style="normal" fill="#111" textLength="330.03" lengthAdjust="spacingAndGlyphs" transform="rotate(-90 99.06 378.93)" style="white-space:pre;word-spacing:0.12em">Relative TET2 mRNA Level</text>
<text x="245.83" y="415.3" font-family="Liberation Serif" font-size="24.15" font-weight="bold" font-style="normal" fill="#111" textLength="40.82" lengthAdjust="spacingAndGlyphs" style="white-space:pre;">ND</text>
<text x="467.13" y="415.06" font-family="Liberation Serif" font-size="23.79" font-weight="bold" font-style="normal" fill="#111" textLength="36.73" lengthAdjust="spacingAndGlyphs" style="white-space:pre;">CR</text>
<text x="729.83" y="61.42" font-family="Liberation Sans" font-size="22.96" font-weight="bold" font-style="normal" fill="#111" textLength="54.5" lengthAdjust="spacingAndGlyphs" style="white-space:pre;">0.020</text>
<text x="729.84" y="138" font-family="Liberation Sans" font-size="22.96" font-weight="bold" font-style="normal" fill="#111" textLength="54.05" lengthAdjust="spacingAndGlyphs" style="white-space:pre;">0.015</text>
<text x="729.83" y="214.57" font-family="Liberation Sans" font-size="22.96" font-weight="bold" font-style="normal" fill="#111" textLength="54.5" lengthAdjust="spacingAndGlyphs" style="white-space:pre;">0.010</text>
<text x="729.84" y="291.15" font-family="Liberation Sans" font-size="22.96" font-weight="bold" font-style="normal" fill="#111" textLength="54.05" lengthAdjust="spacingAndGlyphs" style="white-space:pre;">0.005</text>
<text x="729.83" y="367.72" font-family="Liberation Sans" font-size="22.96" font-weight="bold" font-style="normal" fill="#111" textLength="54.5" lengthAdjust="spacingAndGlyphs" style="white-space:pre;">0.000</text>
<text x="611.21" y="104" font-family="Liberation Serif" font-size="55.38" font-weight="bold" font-style="normal" fill="#111" textLength="36.47" lengthAdjust="spacingAndGlyphs" style="white-space:pre;">B</text>
<text x="715.86" y="376.73" font-family="Liberation Serif" font-size="24.14" font-weight="bold" font-style="normal" fill="#111" textLength="331.09" lengthAdjust="spacingAndGlyphs" transform="rotate(-90 715.86 376.73)" style="white-space:pre;word-spacing:0.12em">Relative EZH2 mRNA Level</text>
<text x="885.84" y="415.3" font-family="Liberation Serif" font-size="24.15" font-weight="bold" font-style="normal" fill="#111" textLength="40.3" lengthAdjust="spacingAndGlyphs" style="white-space:pre;">ND</text>
<text x="1107.13" y="415.06" font-family="Liberation Serif" font-size="23.79" font-weight="bold" font-style="normal" fill="#111" textLength="36.73" lengthAdjust="spacingAndGlyphs" style="white-space:pre;">CR</text>
<text x="135.64" y="532.67" font-family="Liberation Sans" font-size="23.38" font-weight="bold" font-style="normal" fill="#111" textLength="41.96" lengthAdjust="spacingAndGlyphs" style="white-space:pre;">0.20</text>
<text x="135.65" y="607.27" font-family="Liberation Sans" font-size="23.38" font-weight="bold" font-style="normal" fill="#111" textLength="41.52" lengthAdjust="spacingAndGlyphs" style="white-space:pre;">0.15</text>
<text x="135.64" y="681.87" font-family="Liberation Sans" font-size="23.38" font-weight="bold" font-style="normal" fill="#111" textLength="41.96" lengthAdjust="spacingAndGlyphs" style="white-space:pre;">0.10</text>
<text x="135.65" y="756.47" font-family="Liberation Sans" font-size="23.38" font-weight="bold" font-style="normal" fill="#111" textLength="41.52" lengthAdjust="spacingAndGlyphs" style="white-space:pre;">0.05</text>
<text x="135.64" y="831.07" font-family="Liberation Sans" font-size="23.38" font-weight="bold" font-style="normal" fill="#111" textLength="41.96" lengthAdjust="spacingAndGlyphs" style="white-space:pre;">0.00</text>
<text x="371.13" y="494.94" font-family="Liberation Serif" font-size="26.04" font-weight="normal" font-style="normal" fill="#444" textLength="20.89" lengthAdjust="spacingAndGlyphs" style="white-space:pre;">ns</text>
<text x="0.04" y="539.04" font-family="Liberation Serif" font-size="56.36" font-weight="bold" font-style="normal" fill="#111" textLength="42.73" lengthAdjust="spacingAndGlyphs" style="white-space:pre;">C</text>
<text x="99.16" y="853.23" font-family="Liberation Serif" font-size="24" font-weight="bold" font-style="normal" fill="#111" textLength="337.59" lengthAdjust="spacingAndGlyphs" transform="rotate(-90 99.16 853.23)" style="white-space:pre;word-spacing:0.12em">Relative MAD2 mRNA Level</text>
<text x="245.83" y="862.2" font-family="Liberation Serif" font-size="25.23" font-weight="bold" font-style="normal" fill="#111" textLength="40.82" lengthAdjust="spacingAndGlyphs" style="white-space:pre;">ND</text>
<text x="467.13" y="861.95" font-family="Liberation Serif" font-size="24.85" font-weight="bold" font-style="normal" fill="#111" textLength="36.73" lengthAdjust="spacingAndGlyphs" style="white-space:pre;">CR</text>
<text x="745.06" y="506.52" font-family="Liberation Sans" font-size="22.96" font-weight="bold" font-style="normal" fill="#111" textLength="40.9" lengthAdjust="spacingAndGlyphs" style="white-space:pre;">0.08</text>
<text x="745.06" y="581.82" font-family="Liberation Sans" font-size="22.96" font-weight="bold" font-style="normal" fill="#111" textLength="41.11" lengthAdjust="spacingAndGlyphs" style="white-space:pre;">0.06</text>
<text x="745.07" y="657.12" font-family="Liberation Sans" font-size="22.96" font-weight="bold" font-style="normal" fill="#111" textLength="40.46" lengthAdjust="spacingAndGlyphs" style="white-space:pre;">0.04</text>
<text x="745.06" y="732.42" font-family="Liberation Sans" font-size="22.96" font-weight="bold" font-style="normal" fill="#111" textLength="41.11" lengthAdjust="spacingAndGlyphs" style="white-space:pre;">0.02</text>
<text x="745.05" y="807.72" font-family="Liberation Sans" font-size="22.96" font-weight="bold" font-style="normal" fill="#111" textLength="41.33" lengthAdjust="spacingAndGlyphs" style="white-space:pre;">0.00</text>
<text x="614.87" y="525.3" font-family="Liberation Serif" font-size="54.31" font-weight="bold" font-style="normal" fill="#111" textLength="40.66" lengthAdjust="spacingAndGlyphs" style="white-space:pre;">D</text>
<text x="715.62" y="844.53" font-family="Liberation Serif" font-size="23.8" font-weight="bold" font-style="normal" fill="#111" textLength="345.75" lengthAdjust="spacingAndGlyphs" transform="rotate(-90 715.62 844.53)" style="white-space:pre;word-spacing:0.12em">Relative CDC20 mRNA Level</text>
<text x="885.84" y="862.2" font-family="Liberation Serif" font-size="25.23" font-weight="bold" font-style="normal" fill="#111" textLength="40.3" lengthAdjust="spacingAndGlyphs" style="white-space:pre;">ND</text>
<text x="1107.13" y="861.95" font-family="Liberation Serif" font-size="24.85" font-weight="bold" font-style="normal" fill="#111" textLength="36.73" lengthAdjust="spacingAndGlyphs" style="white-space:pre;">CR</text>
<text x="141.37" y="985.23" font-family="Liberation Serif" font-size="23.53" font-weight="bold" font-style="normal" fill="#111" textLength="36.47" lengthAdjust="spacingAndGlyphs" style="white-space:pre;">0.15</text>
<text x="141.37" y="1078.3" font-family="Liberation Serif" font-size="23.53" font-weight="bold" font-style="normal" fill="#111" textLength="36.47" lengthAdjust="spacingAndGlyphs" style="white-space:pre;">0.10</text>
<text x="141.37" y="1171.36" font-family="Liberation Serif" font-size="23.88" font-weight="bold" font-style="normal" fill="#111" textLength="36.47" lengthAdjust="spacingAndGlyphs" style="white-space:pre;">0.05</text>
<text x="141.37" y="1264.42" font-family="Liberation Serif" font-size="23.88" font-weight="bold" font-style="normal" fill="#111" textLength="36.47" lengthAdjust="spacingAndGlyphs" style="white-space:pre;">0.00</text>
<text x="23.99" y="965.7" font-family="Liberation Serif" font-size="55.23" font-weight="bold" font-style="normal" fill="#111" textLength="37.13" lengthAdjust="spacingAndGlyphs" style="white-space:pre;">E</text>
<text x="131.18" y="1267.29" font-family="Liberation Serif" font-size="22" font-weight="bold" font-style="normal" fill="#111" textLength="305.75" lengthAdjust="spacingAndGlyphs" transform="rotate(-90 131.18 1267.29)" style="white-space:pre;word-spacing:0.12em">Relative TET2 mRNA Level</text>
<text x="249.18" y="1314.8" font-family="Liberation Serif" font-size="23.38" font-weight="bold" font-style="normal" fill="#111" textLength="37.37" lengthAdjust="spacingAndGlyphs" style="white-space:pre;">ND</text>
<text x="450.83" y="1314.57" font-family="Liberation Serif" font-size="23.03" font-weight="bold" font-style="normal" fill="#111" textLength="33.84" lengthAdjust="spacingAndGlyphs" style="white-space:pre;">CR</text>
<text x="732.62" y="991.94" font-family="Liberation Serif" font-size="22.94" font-weight="bold" font-style="normal" fill="#111" textLength="43.96" lengthAdjust="spacingAndGlyphs" style="white-space:pre;">0.015</text>
<text x="732.62" y="1077.11" font-family="Liberation Serif" font-size="22.94" font-weight="bold" font-style="normal" fill="#111" textLength="43.96" lengthAdjust="spacingAndGlyphs" style="white-space:pre;">0.010</text>
<text x="732.62" y="1162.27" font-family="Liberation Serif" font-size="23.28" font-weight="bold" font-style="normal" fill="#111" textLength="43.96" lengthAdjust="spacingAndGlyphs" style="white-space:pre;">0.005</text>
<text x="732.62" y="1247.43" font-family="Liberation Serif" font-size="23.28" font-weight="bold" font-style="normal" fill="#111" textLength="43.96" lengthAdjust="spacingAndGlyphs" style="white-space:pre;">0.000</text>
<text x="621.04" y="954.2" font-family="Liberation Serif" font-size="55.69" font-weight="bold" font-style="normal" fill="#111" textLength="35.41" lengthAdjust="spacingAndGlyphs" style="white-space:pre;">F</text>
<text x="715.08" y="1253.17" font-family="Liberation Serif" font-size="22.14" font-weight="bold" font-style="normal" fill="#111" textLength="291.27" lengthAdjust="spacingAndGlyphs" transform="rotate(-90 715.08 1253.17)" style="white-space:pre;word-spacing:0.12em">Relative EZH2 mRNA Level</text>
<text x="838.3" y="1314.8" font-family="Liberation Serif" font-size="22.62" font-weight="bold" font-style="normal" fill="#111" textLength="36.32" lengthAdjust="spacingAndGlyphs" style="white-space:pre;">ND</text>
<text x="1039.86" y="1314.58" font-family="Liberation Serif" font-size="22.27" font-weight="bold" font-style="normal" fill="#111" textLength="32.81" lengthAdjust="spacingAndGlyphs" style="white-space:pre;">CR</text>
<text x="141.16" y="1430.56" font-family="Liberation Serif" font-size="24.33" font-weight="bold" font-style="normal" fill="#111" textLength="36.78" lengthAdjust="spacingAndGlyphs" style="white-space:pre;">0.20</text>
<text x="141.16" y="1500.35" font-family="Liberation Serif" font-size="23.97" font-weight="bold" font-style="normal" fill="#111" textLength="36.78" lengthAdjust="spacingAndGlyphs" style="white-space:pre;">0.15</text>
<text x="141.16" y="1570.12" font-family="Liberation Serif" font-size="23.97" font-weight="bold" font-style="normal" fill="#111" textLength="36.78" lengthAdjust="spacingAndGlyphs" style="white-space:pre;">0.10</text>
<text x="141.16" y="1639.89" font-family="Liberation Serif" font-size="24.33" font-weight="bold" font-style="normal" fill="#111" textLength="36.78" lengthAdjust="spacingAndGlyphs" style="white-space:pre;">0.05</text>
<text x="141.16" y="1709.66" font-family="Liberation Serif" font-size="24.33" font-weight="bold" font-style="normal" fill="#111" textLength="36.78" lengthAdjust="spacingAndGlyphs" style="white-space:pre;">0.00</text>
<text x="41.26" y="1433.53" font-family="Liberation Serif" font-size="57.42" font-weight="bold" font-style="normal" fill="#111" textLength="44.23" lengthAdjust="spacingAndGlyphs" style="white-space:pre;">G</text>
<text x="131.28" y="1720.98" font-family="Liberation Serif" font-size="21.86" font-weight="bold" font-style="normal" fill="#111" textLength="307.81" lengthAdjust="spacingAndGlyphs" transform="rotate(-90 131.28 1720.98)" style="white-space:pre;word-spacing:0.12em">Relative MAD2 mRNA Level</text>
<text x="249.18" y="1753.3" font-family="Liberation Serif" font-size="23.38" font-weight="bold" font-style="normal" fill="#111" textLength="37.37" lengthAdjust="spacingAndGlyphs" style="white-space:pre;">ND</text>
<text x="450.83" y="1753.07" font-family="Liberation Serif" font-size="23.03" font-weight="bold" font-style="normal" fill="#111" textLength="33.84" lengthAdjust="spacingAndGlyphs" style="white-space:pre;">CR</text>
<text x="726.74" y="1435.16" font-family="Liberation Serif" font-size="24.33" font-weight="bold" font-style="normal" fill="#111" textLength="37.41" lengthAdjust="spacingAndGlyphs" style="white-space:pre;">0.05</text>
<text x="726.76" y="1490.96" font-family="Liberation Serif" font-size="24.33" font-weight="bold" font-style="normal" fill="#111" textLength="36.97" lengthAdjust="spacingAndGlyphs" style="white-space:pre;">0.04</text>
<text x="726.75" y="1546.76" font-family="Liberation Serif" font-size="24.33" font-weight="bold" font-style="normal" fill="#111" textLength="37.19" lengthAdjust="spacingAndGlyphs" style="white-space:pre;">0.03</text>
<text x="726.74" y="1602.56" font-family="Liberation Serif" font-size="24.33" font-weight="bold" font-style="normal" fill="#111" textLength="37.41" lengthAdjust="spacingAndGlyphs" style="white-space:pre;">0.02</text>
<text x="726.74" y="1658.37" font-family="Liberation Serif" font-size="23.97" font-weight="bold" font-style="normal" fill="#111" textLength="37.64" lengthAdjust="spacingAndGlyphs" style="white-space:pre;">0.01</text>
<text x="726.74" y="1714.16" font-family="Liberation Serif" font-size="24.33" font-weight="bold" font-style="normal" fill="#111" textLength="37.41" lengthAdjust="spacingAndGlyphs" style="white-space:pre;">0.00</text>
<text x="615.81" y="1425.5" font-family="Liberation Serif" font-size="54.46" font-weight="bold" font-style="normal" fill="#111" textLength="42.47" lengthAdjust="spacingAndGlyphs" style="white-space:pre;">H</text>
<text x="714.77" y="1719.87" font-family="Liberation Serif" font-size="21.27" font-weight="bold" font-style="normal" fill="#111" textLength="306.05" lengthAdjust="spacingAndGlyphs" transform="rotate(-90 714.77 1719.87)" style="white-space:pre;word-spacing:0.12em">Relative CDC20 mRNA Level</text>
<text x="838.3" y="1753.3" font-family="Liberation Serif" font-size="23.38" font-weight="bold" font-style="normal" fill="#111" textLength="36.32" lengthAdjust="spacingAndGlyphs" style="white-space:pre;">ND</text>
<text x="1039.86" y="1753.07" font-family="Liberation Serif" font-size="23.03" font-weight="bold" font-style="normal" fill="#111" textLength="32.81" lengthAdjust="spacingAndGlyphs" style="white-space:pre;">CR</text>
<text x="33.67" y="1855.2" font-family="Liberation Serif" font-size="55.23" font-weight="bold" font-style="normal" fill="#111" textLength="22.41" lengthAdjust="spacingAndGlyphs" style="white-space:pre;">I</text>
<text x="97.83" y="1859.24" font-family="Liberation Sans" font-size="26.48" font-weight="bold" font-style="normal" fill="#111" textLength="42.41" lengthAdjust="spacingAndGlyphs" style="white-space:pre;">0.04</text>
<text x="97.81" y="1947.96" font-family="Liberation Sans" font-size="26.48" font-weight="bold" font-style="normal" fill="#111" textLength="43.09" lengthAdjust="spacingAndGlyphs" style="white-space:pre;">0.03</text>
<text x="97.81" y="2036.69" font-family="Liberation Sans" font-size="26.48" font-weight="bold" font-style="normal" fill="#111" textLength="43.09" lengthAdjust="spacingAndGlyphs" style="white-space:pre;">0.02</text>
<text x="97.82" y="2125.41" font-family="Liberation Sans" font-size="26.48" font-weight="bold" font-style="normal" fill="#111" textLength="42.86" lengthAdjust="spacingAndGlyphs" style="white-space:pre;">0.01</text>
<text x="97.81" y="2214.14" font-family="Liberation Sans" font-size="26.48" font-weight="bold" font-style="normal" fill="#111" textLength="43.32" lengthAdjust="spacingAndGlyphs" style="white-space:pre;">0.00</text>
<text x="124.76" y="2243.43" font-family="Liberation Sans" font-size="27.18" font-weight="bold" font-style="normal" fill="#111" textLength="55.53" lengthAdjust="spacingAndGlyphs" style="white-space:pre;">0.000</text>
<text x="237.37" y="2243.43" font-family="Liberation Sans" font-size="27.18" font-weight="bold" font-style="normal" fill="#111" textLength="55.08" lengthAdjust="spacingAndGlyphs" style="white-space:pre;">0.005</text>
<text x="349.96" y="2243.43" font-family="Liberation Sans" font-size="27.18" font-weight="bold" font-style="normal" fill="#111" textLength="55.53" lengthAdjust="spacingAndGlyphs" style="white-space:pre;">0.010</text>
<text x="462.57" y="2243.43" font-family="Liberation Sans" font-size="27.18" font-weight="bold" font-style="normal" fill="#111" textLength="55.08" lengthAdjust="spacingAndGlyphs" style="white-space:pre;">0.015</text>
<text x="575.16" y="2243.43" font-family="Liberation Sans" font-size="27.18" font-weight="bold" font-style="normal" fill="#111" textLength="55.53" lengthAdjust="spacingAndGlyphs" style="white-space:pre;">0.020</text>
<text x="348.17" y="2281.8" font-family="Liberation Serif" font-size="30.77" font-weight="normal" font-style="normal" fill="#3a3a3a" textLength="59.75" lengthAdjust="spacingAndGlyphs" style="white-space:pre;">EZH2</text>
<text x="83.75" y="2073.11" font-family="Liberation Serif" font-size="27.61" font-weight="normal" font-style="normal" fill="#3a3a3a" textLength="92.61" lengthAdjust="spacingAndGlyphs" transform="rotate(-90 83.75 2073.11)" style="white-space:pre;">CDC20</text>
<text x="323.2" y="1867.85" font-family="Liberation Sans" font-size="28.35" font-weight="normal" font-style="italic" fill="#333" textLength="93.53" lengthAdjust="spacingAndGlyphs" style="white-space:pre;">*p &lt;0.05</text>
<text x="710.01" y="1854.77" font-family="Liberation Sans" font-size="28.03" font-weight="bold" font-style="normal" fill="#111" textLength="43.44" lengthAdjust="spacingAndGlyphs" style="white-space:pre;">0.04</text>
<text x="709.99" y="1945.37" font-family="Liberation Sans" font-size="28.03" font-weight="bold" font-style="normal" fill="#111" textLength="44.13" lengthAdjust="spacingAndGlyphs" style="white-space:pre;">0.03</text>
<text x="709.99" y="2035.97" font-family="Liberation Sans" font-size="28.03" font-weight="bold" font-style="normal" fill="#111" textLength="44.13" lengthAdjust="spacingAndGlyphs" style="white-space:pre;">0.02</text>
<text x="710" y="2126.57" font-family="Liberation Sans" font-size="28.03" font-weight="bold" font-style="normal" fill="#111" textLength="43.9" lengthAdjust="spacingAndGlyphs" style="white-space:pre;">0.01</text>
<text x="709.99" y="2217.17" font-family="Liberation Sans" font-size="28.03" font-weight="bold" font-style="normal" fill="#111" textLength="44.37" lengthAdjust="spacingAndGlyphs" style="white-space:pre;">0.00</text>
<text x="750.11" y="2247.42" font-family="Liberation Sans" font-size="28.03" font-weight="bold" font-style="normal" fill="#111" textLength="30.99" lengthAdjust="spacingAndGlyphs" style="white-space:pre;">0.0</text>
<text x="865.37" y="2247.42" font-family="Liberation Sans" font-size="28.03" font-weight="bold" font-style="normal" fill="#111" textLength="30.75" lengthAdjust="spacingAndGlyphs" style="white-space:pre;">0.1</text>
<text x="980.61" y="2247.42" font-family="Liberation Sans" font-size="28.03" font-weight="bold" font-style="normal" fill="#111" textLength="30.99" lengthAdjust="spacingAndGlyphs" style="white-space:pre;">0.2</text>
<text x="1095.86" y="2247.42" font-family="Liberation Sans" font-size="28.03" font-weight="bold" font-style="normal" fill="#111" textLength="30.99" lengthAdjust="spacingAndGlyphs" style="white-space:pre;">0.3</text>
<text x="1211.13" y="2247.42" font-family="Liberation Sans" font-size="28.03" font-weight="bold" font-style="normal" fill="#111" textLength="30.07" lengthAdjust="spacingAndGlyphs" style="white-space:pre;">0.4</text>
<text x="960.44" y="2286.1" font-family="Liberation Serif" font-size="30.76" font-weight="normal" font-style="normal" fill="#3a3a3a" textLength="71.41" lengthAdjust="spacingAndGlyphs" style="white-space:pre;">MAD2</text>
<text x="695.74" y="2072.73" font-family="Liberation Serif" font-size="28.21" font-weight="normal" font-style="normal" fill="#3a3a3a" textLength="94.15" lengthAdjust="spacingAndGlyphs" transform="rotate(-90 695.74 2072.73)" style="white-space:pre;">CDC20</text>
<text x="987.91" y="1862.23" font-family="Liberation Sans" font-size="27.47" font-weight="normal" font-style="italic" fill="#333" textLength="93.33" lengthAdjust="spacingAndGlyphs" style="white-space:pre;">*p &lt;0.05</text>
</g>
</svg>
</body></html>
